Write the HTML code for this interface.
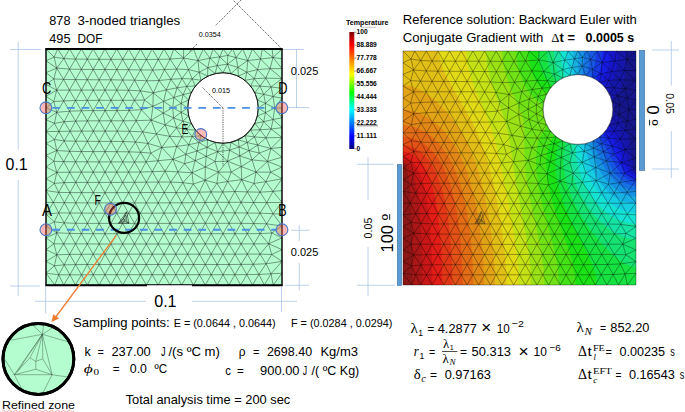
<!DOCTYPE html>
<html lang="en"><head><meta charset="utf-8"><title>Benchmark: plate with hole</title>
<style>html,body{margin:0;padding:0;background:#fff}svg{display:block}</style></head>
<body>
<svg width="685" height="412" viewBox="0 0 685 412">
<rect width="685" height="412" fill="#fff"/>
<g stroke="#a6c1e5" stroke-width="0.75" fill="none">
<path d="M18.2,42L18.2,149.5"/>
<path d="M18.2,180L18.2,296"/>
<path d="M10,49.5L41,49.5"/>
<path d="M10,286L40,286"/>
<path d="M45.7,286L45.7,313.5"/>
<path d="M35,301.3L146,301.3"/>
<path d="M192,301.3L297,301.3"/>
<path d="M281.5,287L281.5,312"/>
<path d="M296.5,49L296.5,108"/>
<path d="M283,49.5L304,49.5"/>
<path d="M288,107.5L309,107.5"/>
<path d="M299.3,225L299.3,241"/>
<path d="M299.3,263L299.3,290"/>
<path d="M291.4,230.3L309.6,230.3"/>
<path d="M285,285.3L309,285.3"/>
<path d="M368,157L368,200"/>
<path d="M368,247L368,296"/>
<path d="M357,164.3L394,164.3"/>
<path d="M357,285.3L395,285.3"/>
<path d="M671.3,41L671.3,85.5"/>
<path d="M671.3,131L671.3,178"/>
<path d="M652,50L679,50"/>
<path d="M652,169L679,169"/>
</g>
<rect x="46" y="49" width="236" height="236" fill="#b4fdce"/>
<circle cx="223" cy="108" r="35.4" fill="#fff"/>
<path d="M46,49L57.8,49M46,49L46,60.8M46,49L54.1,57.1M57.8,49L69.6,49M57.8,49L54.1,57.1M57.8,49L63.9,58.6M69.6,49L81.4,49M69.6,49L63.9,58.6M69.6,49L75.5,59.1M81.4,49L93.2,49M81.4,49L75.5,59.1M81.4,49L87.3,59.2M93.2,49L105,49M93.2,49L87.3,59.2M93.2,49L99.1,59.3M105,49L116.8,49M105,49L99.1,59.3M105,49L110.9,59.3M116.8,49L128.6,49M116.8,49L110.9,59.3M116.8,49L122.7,59.3M128.6,49L140.4,49M128.6,49L122.7,59.3M128.6,49L134.5,59.4M140.4,49L152.2,49M140.4,49L134.5,59.4M140.4,49L146.4,59.5M152.2,49L164,49M152.2,49L146.4,59.5M152.2,49L158.3,59.4M164,49L173.8,49M164,49L170.1,59.1M164,49L158.3,59.4M173.8,49L183.7,49M173.8,49L183.5,58M173.8,49L170.1,59.1M183.7,49L193.5,49M183.7,49L183.5,58M193.5,49L203.3,49M193.5,49L198,60.6M193.5,49L183.5,58M203.3,49L213.2,49M203.3,49L198,60.6M203.3,49L209.9,58.2M213.2,49L223,49M213.2,49L209.9,58.2M213.2,49L219.8,56.9M223,49L232.8,49M223,49L219.8,56.9M223,49L227.8,55.4M232.8,49L242.7,49M232.8,49L227.8,55.4M232.8,49L236.1,57.6M242.7,49L252.5,49M242.7,49L236.1,57.6M242.7,49L247.7,60.6M252.5,49L262.3,49M252.5,49L247.7,60.6M252.5,49L260.5,59.1M262.3,49L272.2,49M262.3,49L260.5,59.1M262.3,49L273,57.5M272.2,49L282,49M272.2,49L273,57.5M282,49L282,58.8M282,49L273,57.5M282,58.8L282,68.7M282,58.8L273,57.5M282,68.7L282,78.5M282,68.7L270.1,68.6M282,68.7L273,57.5M282,78.5L282,88.3M282,78.5L265.8,78.1M282,78.5L271.1,87M282,78.5L270.1,68.6M282,88.3L282,98.2M282,88.3L271.1,87M282,88.3L273.1,96.5M282,98.2L282,108M282,98.2L274.7,108M282,98.2L273.1,96.5M282,108L282,117.8M282,108L274.7,108M282,117.8L282,127.7M282,117.8L274.7,108M282,117.8L273.1,119.5M282,127.7L282,137.5M282,127.7L273.1,119.5M282,127.7L271.1,129M282,137.5L282,147.3M282,137.5L271.1,129M282,137.5L266,137.8M282,137.5L270.9,148.5M282,147.3L282,157.2M282,147.3L270.9,148.5M282,157.2L282,167M282,157.2L270.9,148.5M282,157.2L267.5,161.4M282,167L282,178.8M282,167L267.5,161.4M282,167L270.6,172.2M282,178.8L282,190.6M282,178.8L270.6,172.2M282,178.8L265.8,181.7M282,178.8L273,191.4M282,190.6L282,202.4M282,190.6L273,191.4M282,202.4L282,214.2M282,202.4L273,191.4M282,202.4L266.8,202.6M282,202.4L273.1,213.7M282,214.2L282,226M282,214.2L273.1,213.7M282,226L282,237.8M282,226L273.1,213.7M282,226L266.6,223.8M282,226L271.8,233M282,237.8L282,249.6M282,237.8L271.8,233M282,237.8L268.7,243.8M282,249.6L282,261.4M282,249.6L268.7,243.8M282,249.6L271.7,254.5M282,261.4L282,273.2M282,261.4L271.7,254.5M282,261.4L266.1,263.8M282,261.4L271,273.8M282,273.2L282,285M282,273.2L273.2,285M282,273.2L271,273.8M282,285L273.2,285M46,285L54.8,285M46,285L46,273.2M54.8,285L63.7,285M54.8,285L46,273.2M54.8,285L58.8,274.8M63.7,285L75.5,285M63.7,285L58.8,274.8M63.7,285L69.9,274.8M75.5,285L87.3,285M75.5,285L69.9,274.8M75.5,285L81.5,274.8M87.3,285L99.1,285M87.3,285L81.5,274.8M87.3,285L93.2,274.7M99.1,285L110.9,285M99.1,285L93.2,274.7M99.1,285L105,274.7M110.9,285L122.7,285M110.9,285L105,274.7M110.9,285L116.8,274.7M122.7,285L134.5,285M122.7,285L116.8,274.7M122.7,285L128.6,274.7M134.5,285L146.3,285M134.5,285L128.6,274.7M134.5,285L140.4,274.7M146.3,285L158.1,285M146.3,285L140.4,274.7M146.3,285L152.2,274.7M158.1,285L169.9,285M158.1,285L152.2,274.7M158.1,285L164,274.7M169.9,285L181.7,285M169.9,285L164,274.7M169.9,285L175.8,274.7M181.7,285L193.5,285M181.7,285L175.8,274.7M181.7,285L187.6,274.7M193.5,285L205.3,285M193.5,285L187.6,274.7M193.5,285L199.4,274.7M205.3,285L217.1,285M205.3,285L199.4,274.7M205.3,285L211.2,274.7M217.1,285L228.9,285M217.1,285L211.2,274.7M217.1,285L223,274.7M228.9,285L240.7,285M228.9,285L223,274.7M228.9,285L234.9,274.7M240.7,285L252.5,285M240.7,285L234.9,274.7M240.7,285L246.8,274.6M252.5,285L264.3,285M252.5,285L246.8,274.6M252.5,285L258.9,274.4M264.3,285L273.2,285M264.3,285L258.9,274.4M264.3,285L271,273.8M273.2,285L271,273.8M46,60.8L46,72.6M46,60.8L54.1,57.1M46,60.8L56.7,68.1M46,72.6L46,84.4M46,72.6L56.7,68.1M46,72.6L53.8,78.9M46,84.4L46,96.2M46,84.4L53.8,78.9M46,84.4L56.7,90.2M46,96.2L46,108M46,96.2L56.7,90.2M46,96.2L53.8,101.5M46,108L46,119.8M46,108L53.8,101.5M46,108L56.8,112.3M46,119.8L46,131.6M46,119.8L56.8,112.3M46,119.8L54.4,123.3M46,131.6L46,143.4M46,131.6L54.4,123.3M46,131.6L58.9,131.4M46,131.6L54.4,139.5M46,143.4L46,155.2M46,143.4L54.4,139.5M46,143.4L56.8,150.5M46,155.2L46,167M46,155.2L56.8,150.5M46,155.2L53.9,161.3M46,167L46,178.8M46,167L53.9,161.3M46,167L56.8,172.4M46,178.8L46,190.6M46,178.8L56.8,172.4M46,178.8L54.3,183.4M46,190.6L46,202.4M46,190.6L54.3,183.4M46,190.6L58.7,192.4M46,190.6L53.3,202.5M46,202.4L46,214.2M46,202.4L53.3,202.5M46,214.2L46,226M46,214.2L53.3,202.5M46,214.2L58.7,212.9M46,214.2L54.3,221.8M46,226L46,237.8M46,226L54.3,221.8M46,226L56.8,232.8M46,237.8L46,249.6M46,237.8L56.8,232.8M46,237.8L53.9,243.8M46,249.6L46,261.4M46,249.6L53.9,243.8M46,249.6L56.8,254.8M46,261.4L46,273.2M46,261.4L56.8,254.8M46,261.4L54.4,265.8M46,273.2L54.4,265.8M46,273.2L58.8,274.8M258.4,108L257.5,115.9M258.4,108L257.5,100.1M258.4,108L265.5,112.7M258.4,108L265.5,103.3M257.5,115.9L254.9,123.4M257.5,115.9L265.5,112.7M257.5,115.9L263.7,121.7M254.9,123.4L250.7,130.1M254.9,123.4L245.1,135.7M254.9,123.4L263.7,121.7M254.9,123.4L260.1,129.8M250.7,130.1L245.1,135.7M250.7,130.1L260.1,129.8M250.7,130.1L254.4,136.9M245.1,135.7L238.4,139.9M245.1,135.7L230.9,142.5M245.1,135.7L254.4,136.9M245.1,135.7L247.2,142.5M238.4,139.9L230.9,142.5M238.4,139.9L247.2,142.5M238.4,139.9L239.1,147M230.9,142.5L223,143.4M230.9,142.5L239.1,147M230.9,142.5L229.6,150.2M223,143.4L215.1,142.5M223,143.4L229.6,150.2M223,143.4L217.6,151.7M215.1,142.5L207.6,139.9M215.1,142.5L217.6,151.7M215.1,142.5L207.1,147.3M207.6,139.9L200.9,135.7M207.6,139.9L207.1,147.3M207.6,139.9L198.9,142.5M200.9,135.7L195.3,130.1M200.9,135.7L198.9,142.5M200.9,135.7L192.1,136.6M195.3,130.1L191.1,123.4M195.3,130.1L192.1,136.6M195.3,130.1L186.6,129.4M191.1,123.4L188.5,115.9M191.1,123.4L186.6,129.4M191.1,123.4L182.9,121.2M188.5,115.9L187.6,108M188.5,115.9L182.9,121.2M188.5,115.9L181.1,112.4M187.6,108L188.5,100.1M187.6,108L181.1,112.4M187.6,108L181.1,103.4M188.5,100.1L191.1,92.6M188.5,100.1L181.1,103.4M188.5,100.1L183.1,94.7M191.1,92.6L195.3,85.9M191.1,92.6L183.1,94.7M191.1,92.6L186.8,86.4M195.3,85.9L200.9,80.3M195.3,85.9L186.8,86.4M195.3,85.9L192.1,78.9M200.9,80.3L207.6,76.1M200.9,80.3L192.1,78.9M200.9,80.3L199.2,72.2M207.6,76.1L215.1,73.5M207.6,76.1L199.2,72.2M207.6,76.1L207.8,67.7M215.1,73.5L223,72.6M215.1,73.5L207.8,67.7M215.1,73.5L217.2,65.6M223,72.6L230.9,73.5M223,72.6L217.2,65.6M223,72.6L227.5,64.2M230.9,73.5L238.4,76.1M230.9,73.5L227.5,64.2M230.9,73.5L237.9,67.4M238.4,76.1L245.1,80.3M238.4,76.1L237.9,67.4M238.4,76.1L246.8,72.2M245.1,80.3L250.7,85.9M245.1,80.3L246.8,72.2M245.1,80.3L254.3,78.7M250.7,85.9L254.9,92.6M250.7,85.9L254.3,78.7M250.7,85.9L260,86.1M254.9,92.6L257.5,100.1M254.9,92.6L260,86.1M254.9,92.6L263.7,94.3M257.5,100.1L263.7,94.3M257.5,100.1L265.5,103.3M265.5,112.7L263.7,121.7M265.5,112.7L265.5,103.3M265.5,112.7L274.7,108M265.5,112.7L273.1,119.5M263.7,121.7L260.1,129.8M263.7,121.7L273.1,119.5M263.7,121.7L271.1,129M260.1,129.8L254.4,136.9M260.1,129.8L271.1,129M260.1,129.8L266,137.8M254.4,136.9L247.2,142.5M254.4,136.9L266,137.8M254.4,136.9L257.7,145M247.2,142.5L239.1,147M247.2,142.5L257.7,145M247.2,142.5L249.1,150.6M239.1,147L229.6,150.2M239.1,147L249.1,150.6M239.1,147L239.7,155.9M229.6,150.2L217.6,151.7M229.6,150.2L239.7,155.9M229.6,150.2L227.5,161.2M217.6,151.7L207.1,147.3M217.6,151.7L227.5,161.2M217.6,151.7L215,161.5M217.6,151.7L206.2,156.4M207.1,147.3L198.9,142.5M207.1,147.3L206.2,156.4M207.1,147.3L197,151M198.9,142.5L192.1,136.6M198.9,142.5L197,151M198.9,142.5L188.7,144.7M192.1,136.6L186.6,129.4M192.1,136.6L188.7,144.7M192.1,136.6L181.8,136.9M186.6,129.4L182.9,121.2M186.6,129.4L181.8,136.9M186.6,129.4L176.6,127.8M182.9,121.2L181.1,112.4M182.9,121.2L176.6,127.8M182.9,121.2L173.6,117.9M181.1,112.4L181.1,103.4M181.1,112.4L173.6,117.9M181.1,112.4L172.7,107.7M181.1,103.4L183.1,94.7M181.1,103.4L172.7,107.7M181.1,103.4L173.9,97.5M183.1,94.7L186.8,86.4M183.1,94.7L173.9,97.5M183.1,94.7L177.1,87.8M186.8,86.4L192.1,78.9M186.8,86.4L177.1,87.8M186.8,86.4L182,78.6M192.1,78.9L199.2,72.2M192.1,78.9L182,78.6M192.1,78.9L188.5,69.6M199.2,72.2L207.8,67.7M199.2,72.2L188.5,69.6M199.2,72.2L198,60.6M207.8,67.7L217.2,65.6M207.8,67.7L198,60.6M207.8,67.7L209.9,58.2M217.2,65.6L227.5,64.2M217.2,65.6L209.9,58.2M217.2,65.6L219.8,56.9M227.5,64.2L237.9,67.4M227.5,64.2L219.8,56.9M227.5,64.2L227.8,55.4M227.5,64.2L236.1,57.6M237.9,67.4L246.8,72.2M237.9,67.4L236.1,57.6M237.9,67.4L247.7,60.6M246.8,72.2L254.3,78.7M246.8,72.2L247.7,60.6M246.8,72.2L257.5,69.6M254.3,78.7L260,86.1M254.3,78.7L257.5,69.6M254.3,78.7L265.8,78.1M260,86.1L263.7,94.3M260,86.1L265.8,78.1M260,86.1L271.1,87M263.7,94.3L265.5,103.3M263.7,94.3L271.1,87M263.7,94.3L273.1,96.5M265.5,103.3L274.7,108M265.5,103.3L273.1,96.5M274.7,108L273.1,119.5M274.7,108L273.1,96.5M273.1,119.5L271.1,129M271.1,129L266,137.8M266,137.8L257.7,145M266,137.8L270.9,148.5M257.7,145L249.1,150.6M257.7,145L270.9,148.5M257.7,145L259.3,153.1M249.1,150.6L239.7,155.9M249.1,150.6L259.3,153.1M249.1,150.6L252,159.9M239.7,155.9L227.5,161.2M239.7,155.9L252,159.9M239.7,155.9L241.3,166.6M227.5,161.2L215,161.5M227.5,161.2L241.3,166.6M227.5,161.2L231.2,172M227.5,161.2L218.4,172.1M215,161.5L206.2,156.4M215,161.5L218.4,172.1M215,161.5L205.3,167.1M206.2,156.4L197,151M206.2,156.4L205.3,167.1M206.2,156.4L195.1,160.7M197,151L188.7,144.7M197,151L195.1,160.7M197,151L185.8,154.3M188.7,144.7L181.8,136.9M188.7,144.7L185.8,154.3M188.7,144.7L176.7,146.5M181.8,136.9L176.6,127.8M181.8,136.9L176.7,146.5M181.8,136.9L169.7,136.3M176.6,127.8L173.6,117.9M176.6,127.8L169.7,136.3M176.6,127.8L165.1,124.9M173.6,117.9L172.7,107.7M173.6,117.9L165.1,124.9M173.6,117.9L163.2,113.1M172.7,107.7L173.9,97.5M172.7,107.7L163.2,113.1M172.7,107.7L163.7,101.3M173.9,97.5L177.1,87.8M173.9,97.5L163.7,101.3M173.9,97.5L166.3,89.9M177.1,87.8L182,78.6M177.1,87.8L166.3,89.9M177.1,87.8L170.9,79.3M182,78.6L188.5,69.6M182,78.6L170.9,79.3M182,78.6L176.6,69.1M188.5,69.6L198,60.6M188.5,69.6L176.6,69.1M188.5,69.6L183.5,58M198,60.6L209.9,58.2M198,60.6L183.5,58M209.9,58.2L219.8,56.9M219.8,56.9L227.8,55.4M227.8,55.4L236.1,57.6M236.1,57.6L247.7,60.6M247.7,60.6L257.5,69.6M247.7,60.6L260.5,59.1M257.5,69.6L265.8,78.1M257.5,69.6L260.5,59.1M257.5,69.6L270.1,68.6M265.8,78.1L271.1,87M265.8,78.1L270.1,68.6M271.1,87L273.1,96.5M270.9,148.5L259.3,153.1M270.9,148.5L267.5,161.4M259.3,153.1L252,159.9M259.3,153.1L267.5,161.4M252,159.9L241.3,166.6M252,159.9L267.5,161.4M252,159.9L256,172.1M241.3,166.6L231.2,172M241.3,166.6L256,172.1M241.3,166.6L241.7,179.7M231.2,172L218.4,172.1M231.2,172L241.7,179.7M231.2,172L227.6,181.5M218.4,172.1L205.3,167.1M218.4,172.1L227.6,181.5M218.4,172.1L216.9,183.3M218.4,172.1L205.1,180.2M205.3,167.1L195.1,160.7M205.3,167.1L205.1,180.2M205.3,167.1L192,172.7M195.1,160.7L185.8,154.3M195.1,160.7L192,172.7M195.1,160.7L184.6,163.7M185.8,154.3L176.7,146.5M185.8,154.3L184.6,163.7M185.8,154.3L172.8,159.3M176.7,146.5L169.7,136.3M176.7,146.5L172.8,159.3M176.7,146.5L161.8,147.5M169.7,136.3L165.1,124.9M169.7,136.3L161.8,147.5M169.7,136.3L156.4,134M165.1,124.9L163.2,113.1M165.1,124.9L156.4,134M165.1,124.9L151.1,120.1M163.2,113.1L163.7,101.3M163.2,113.1L151.1,120.1M163.2,113.1L152.9,106.3M163.7,101.3L166.3,89.9M163.7,101.3L152.9,106.3M163.7,101.3L153.3,92.9M166.3,89.9L170.9,79.3M166.3,89.9L153.3,92.9M166.3,89.9L159,80.5M170.9,79.3L176.6,69.1M170.9,79.3L159,80.5M170.9,79.3L164.5,69.6M176.6,69.1L183.5,58M176.6,69.1L164.5,69.6M176.6,69.1L170.1,59.1M183.5,58L170.1,59.1M260.5,59.1L270.1,68.6M260.5,59.1L273,57.5M270.1,68.6L273,57.5M267.5,161.4L256,172.1M267.5,161.4L270.6,172.2M256,172.1L241.7,179.7M256,172.1L270.6,172.2M256,172.1L254,183.4M256,172.1L265.8,181.7M241.7,179.7L227.6,181.5M241.7,179.7L254,183.4M241.7,179.7L234.8,191.5M241.7,179.7L247.4,191.9M227.6,181.5L216.9,183.3M227.6,181.5L222.7,192M227.6,181.5L234.8,191.5M216.9,183.3L205.1,180.2M216.9,183.3L211,191.9M216.9,183.3L222.7,192M205.1,180.2L192,172.7M205.1,180.2L193.3,184M205.1,180.2L199.3,192.2M205.1,180.2L211,191.9M192,172.7L184.6,163.7M192,172.7L177.9,171.9M192,172.7L182.9,182.6M192,172.7L193.3,184M184.6,163.7L172.8,159.3M184.6,163.7L177.9,171.9M172.8,159.3L161.8,147.5M172.8,159.3L158.1,160.7M172.8,159.3L165,171.2M172.8,159.3L177.9,171.9M161.8,147.5L156.4,134M161.8,147.5L147.9,143.4M161.8,147.5L150.9,153.1M161.8,147.5L158.1,160.7M156.4,134L151.1,120.1M156.4,134L142.7,131.9M156.4,134L147.9,143.4M151.1,120.1L152.9,106.3M151.1,120.1L141.4,109.7M151.1,120.1L136.2,120.7M151.1,120.1L142.7,131.9M152.9,106.3L153.3,92.9M152.9,106.3L144.5,100M152.9,106.3L141.4,109.7M153.3,92.9L159,80.5M153.3,92.9L146.7,80.8M153.3,92.9L140.4,90.8M153.3,92.9L144.5,100M159,80.5L164.5,69.6M159,80.5L152.6,70M159,80.5L146.7,80.8M164.5,69.6L170.1,59.1M164.5,69.6L158.3,59.4M164.5,69.6L152.6,70M170.1,59.1L158.3,59.4M54.1,57.1L63.9,58.6M54.1,57.1L56.7,68.1M63.9,58.6L75.5,59.1M63.9,58.6L56.7,68.1M63.9,58.6L69.5,69.1M75.5,59.1L87.3,59.2M75.5,59.1L69.5,69.1M75.5,59.1L81.4,69.4M87.3,59.2L99.1,59.3M87.3,59.2L81.4,69.4M87.3,59.2L93.2,69.5M99.1,59.3L110.9,59.3M99.1,59.3L93.2,69.5M99.1,59.3L105,69.5M110.9,59.3L122.7,59.3M110.9,59.3L105,69.5M110.9,59.3L116.8,69.6M122.7,59.3L134.5,59.4M122.7,59.3L116.8,69.6M122.7,59.3L128.7,69.7M134.5,59.4L146.4,59.5M134.5,59.4L128.7,69.7M134.5,59.4L140.6,69.9M146.4,59.5L158.3,59.4M146.4,59.5L140.6,69.9M146.4,59.5L152.6,70M158.3,59.4L152.6,70M56.7,68.1L69.5,69.1M56.7,68.1L53.8,78.9M56.7,68.1L63.6,79.4M69.5,69.1L81.4,69.4M69.5,69.1L63.6,79.4M69.5,69.1L75.5,79.6M81.4,69.4L93.2,69.5M81.4,69.4L75.5,79.6M81.4,69.4L87.3,79.7M93.2,69.5L105,69.5M93.2,69.5L87.3,79.7M93.2,69.5L99.1,79.8M105,69.5L116.8,69.6M105,69.5L99.1,79.8M105,69.5L110.9,79.8M116.8,69.6L128.7,69.7M116.8,69.6L110.9,79.8M116.8,69.6L122.7,80M128.7,69.7L140.6,69.9M128.7,69.7L122.7,80M128.7,69.7L134.6,80.2M140.6,69.9L152.6,70M140.6,69.9L134.6,80.2M140.6,69.9L146.7,80.8M152.6,70L146.7,80.8M53.8,78.9L63.6,79.4M53.8,78.9L56.7,90.2M63.6,79.4L75.5,79.6M63.6,79.4L56.7,90.2M63.6,79.4L69.4,90.1M75.5,79.6L87.3,79.7M75.5,79.6L69.4,90.1M75.5,79.6L81.4,90.1M87.3,79.7L99.1,79.8M87.3,79.7L81.4,90.1M87.3,79.7L93.2,90.1M99.1,79.8L110.9,79.8M99.1,79.8L93.2,90.1M99.1,79.8L105,90.1M110.9,79.8L122.7,80M110.9,79.8L105,90.1M110.9,79.8L116.8,90.1M122.7,80L134.6,80.2M122.7,80L116.8,90.1M122.7,80L128.6,90.3M134.6,80.2L146.7,80.8M134.6,80.2L128.6,90.3M134.6,80.2L140.4,90.8M146.7,80.8L140.4,90.8M56.7,90.2L69.4,90.1M56.7,90.2L53.8,101.5M56.7,90.2L63.7,100.9M69.4,90.1L81.4,90.1M69.4,90.1L63.7,100.9M69.4,90.1L75.5,100.5M81.4,90.1L93.2,90.1M81.4,90.1L75.5,100.5M81.4,90.1L87.3,100.4M93.2,90.1L105,90.1M93.2,90.1L87.3,100.4M93.2,90.1L99.1,100.3M105,90.1L116.8,90.1M105,90.1L99.1,100.3M105,90.1L111,100.3M116.8,90.1L128.6,90.3M116.8,90.1L111,100.3M116.8,90.1L122.8,100.3M128.6,90.3L140.4,90.8M128.6,90.3L122.8,100.3M128.6,90.3L134.5,100.3M140.4,90.8L134.5,100.3M140.4,90.8L144.5,100M53.8,101.5L63.7,100.9M53.8,101.5L56.8,112.3M63.7,100.9L75.5,100.5M63.7,100.9L56.8,112.3M63.7,100.9L69.6,111.2M75.5,100.5L87.3,100.4M75.5,100.5L69.6,111.2M75.5,100.5L81.4,110.7M87.3,100.4L99.1,100.3M87.3,100.4L81.4,110.7M87.3,100.4L93.2,110.6M99.1,100.3L111,100.3M99.1,100.3L93.2,110.6M99.1,100.3L105.1,110.6M111,100.3L122.8,100.3M111,100.3L105.1,110.6M111,100.3L117,110.6M122.8,100.3L134.5,100.3M122.8,100.3L117,110.6M122.8,100.3L129.2,110.4M134.5,100.3L144.5,100M134.5,100.3L129.2,110.4M134.5,100.3L141.4,109.7M144.5,100L141.4,109.7M56.8,112.3L69.6,111.2M56.8,112.3L54.4,123.3M56.8,112.3L64.2,121.7M69.6,111.2L81.4,110.7M69.6,111.2L64.2,121.7M69.6,111.2L75.7,121.1M81.4,110.7L93.2,110.6M81.4,110.7L75.7,121.1M81.4,110.7L87.4,120.9M93.2,110.6L105.1,110.6M93.2,110.6L87.4,120.9M93.2,110.6L99.2,120.8M105.1,110.6L117,110.6M105.1,110.6L99.2,120.8M105.1,110.6L111.1,120.8M117,110.6L129.2,110.4M117,110.6L111.1,120.8M117,110.6L123.3,120.8M129.2,110.4L141.4,109.7M129.2,110.4L123.3,120.8M129.2,110.4L136.2,120.7M141.4,109.7L136.2,120.7M54.4,123.3L64.2,121.7M54.4,123.3L58.9,131.4M64.2,121.7L75.7,121.1M64.2,121.7L58.9,131.4M64.2,121.7L70,131.2M75.7,121.1L87.4,120.9M75.7,121.1L70,131.2M75.7,121.1L81.6,131.1M87.4,120.9L99.2,120.8M87.4,120.9L81.6,131.1M87.4,120.9L93.3,131.1M99.2,120.8L111.1,120.8M99.2,120.8L93.3,131.1M99.2,120.8L105.1,131.1M111.1,120.8L123.3,120.8M111.1,120.8L105.1,131.1M111.1,120.8L117.2,131.1M123.3,120.8L136.2,120.7M123.3,120.8L117.2,131.1M123.3,120.8L129.6,131.3M136.2,120.7L129.6,131.3M136.2,120.7L142.7,131.9M58.9,131.4L70,131.2M58.9,131.4L54.4,139.5M58.9,131.4L64.2,140.9M70,131.2L81.6,131.1M70,131.2L64.2,140.9M70,131.2L75.7,141.2M81.6,131.1L93.3,131.1M81.6,131.1L75.7,141.2M81.6,131.1L87.4,141.3M93.3,131.1L105.1,131.1M93.3,131.1L87.4,141.3M93.3,131.1L99.2,141.4M105.1,131.1L117.2,131.1M105.1,131.1L99.2,141.4M105.1,131.1L111,141.4M117.2,131.1L129.6,131.3M117.2,131.1L111,141.4M117.2,131.1L123.1,141.5M129.6,131.3L142.7,131.9M129.6,131.3L123.1,141.5M129.6,131.3L135.4,142M142.7,131.9L135.4,142M142.7,131.9L147.9,143.4M54.4,139.5L64.2,140.9M54.4,139.5L56.8,150.5M64.2,140.9L75.7,141.2M64.2,140.9L56.8,150.5M64.2,140.9L69.6,151.3M75.7,141.2L87.4,141.3M75.7,141.2L69.6,151.3M75.7,141.2L81.4,151.5M87.4,141.3L99.2,141.4M87.4,141.3L81.4,151.5M87.4,141.3L93.2,151.6M99.2,141.4L111,141.4M99.2,141.4L93.2,151.6M99.2,141.4L105,151.6M111,141.4L123.1,141.5M111,141.4L105,151.6M111,141.4L116.9,151.7M123.1,141.5L135.4,142M123.1,141.5L116.9,151.7M123.1,141.5L128.9,151.8M135.4,142L147.9,143.4M135.4,142L128.9,151.8M135.4,142L140.6,152.3M147.9,143.4L140.6,152.3M147.9,143.4L150.9,153.1M56.8,150.5L69.6,151.3M56.8,150.5L53.9,161.3M56.8,150.5L63.7,161.6M69.6,151.3L81.4,151.5M69.6,151.3L63.7,161.6M69.6,151.3L75.5,161.8M81.4,151.5L93.2,151.6M81.4,151.5L75.5,161.8M81.4,151.5L87.3,161.8M93.2,151.6L105,151.6M93.2,151.6L87.3,161.8M93.2,151.6L99.1,161.9M105,151.6L116.9,151.7M105,151.6L99.1,161.9M105,151.6L110.9,161.9M116.9,151.7L128.9,151.8M116.9,151.7L110.9,161.9M116.9,151.7L122.8,161.9M128.9,151.8L140.6,152.3M128.9,151.8L122.8,161.9M128.9,151.8L134.5,162M140.6,152.3L150.9,153.1M140.6,152.3L134.5,162M140.6,152.3L146.1,161.9M150.9,153.1L146.1,161.9M150.9,153.1L158.1,160.7M53.9,161.3L63.7,161.6M53.9,161.3L56.8,172.4M63.7,161.6L75.5,161.8M63.7,161.6L56.8,172.4M63.7,161.6L69.6,172.2M75.5,161.8L87.3,161.8M75.5,161.8L69.6,172.2M75.5,161.8L81.4,172.1M87.3,161.8L99.1,161.9M87.3,161.8L81.4,172.1M87.3,161.8L93.2,172.1M99.1,161.9L110.9,161.9M99.1,161.9L93.2,172.1M99.1,161.9L105,172.1M110.9,161.9L122.8,161.9M110.9,161.9L105,172.1M110.9,161.9L116.8,172.1M122.8,161.9L134.5,162M122.8,161.9L116.8,172.1M122.8,161.9L128.6,172.1M134.5,162L146.1,161.9M134.5,162L128.6,172.1M134.5,162L140.4,172M146.1,161.9L158.1,160.7M146.1,161.9L140.4,172M146.1,161.9L152.4,171.7M158.1,160.7L152.4,171.7M158.1,160.7L165,171.2M56.8,172.4L69.6,172.2M56.8,172.4L54.3,183.4M56.8,172.4L64.2,182.6M69.6,172.2L81.4,172.1M69.6,172.2L64.2,182.6M69.6,172.2L75.7,182.4M81.4,172.1L93.2,172.1M81.4,172.1L75.7,182.4M81.4,172.1L87.4,182.4M93.2,172.1L105,172.1M93.2,172.1L87.4,182.4M93.2,172.1L99.1,182.4M105,172.1L116.8,172.1M105,172.1L99.1,182.4M105,172.1L110.9,182.4M116.8,172.1L128.6,172.1M116.8,172.1L110.9,182.4M116.8,172.1L122.7,182.4M128.6,172.1L140.4,172M128.6,172.1L122.7,182.4M128.6,172.1L134.5,182.3M140.4,172L152.4,171.7M140.4,172L134.5,182.3M140.4,172L146.4,182.2M152.4,171.7L165,171.2M152.4,171.7L146.4,182.2M152.4,171.7L158.4,182M165,171.2L177.9,171.9M165,171.2L158.4,182M165,171.2L170.7,182.1M177.9,171.9L170.7,182.1M177.9,171.9L182.9,182.6M270.6,172.2L265.8,181.7M54.3,183.4L64.2,182.6M54.3,183.4L58.7,192.4M64.2,182.6L75.7,182.4M64.2,182.6L58.7,192.4M64.2,182.6L70,192.6M75.7,182.4L87.4,182.4M75.7,182.4L70,192.6M75.7,182.4L81.6,192.6M87.4,182.4L99.1,182.4M87.4,182.4L81.6,192.6M87.4,182.4L93.3,192.6M99.1,182.4L110.9,182.4M99.1,182.4L93.3,192.6M99.1,182.4L105,192.7M110.9,182.4L122.7,182.4M110.9,182.4L105,192.7M110.9,182.4L116.8,192.6M122.7,182.4L134.5,182.3M122.7,182.4L116.8,192.6M122.7,182.4L128.6,192.6M134.5,182.3L146.4,182.2M134.5,182.3L128.6,192.6M134.5,182.3L140.4,192.6M146.4,182.2L158.4,182M146.4,182.2L140.4,192.6M146.4,182.2L152.3,192.5M158.4,182L170.7,182.1M158.4,182L152.3,192.5M158.4,182L164.2,192.5M170.7,182.1L182.9,182.6M170.7,182.1L164.2,192.5M170.7,182.1L176.2,192.6M182.9,182.6L193.3,184M182.9,182.6L176.2,192.6M182.9,182.6L187.8,192.7M193.3,184L187.8,192.7M193.3,184L199.3,192.2M254,183.4L265.8,181.7M254,183.4L247.4,191.9M254,183.4L260,192.2M265.8,181.7L260,192.2M265.8,181.7L273,191.4M58.7,192.4L70,192.6M58.7,192.4L53.3,202.5M58.7,192.4L64.4,202.7M70,192.6L81.6,192.6M70,192.6L64.4,202.7M70,192.6L75.8,202.8M81.6,192.6L93.3,192.6M81.6,192.6L75.8,202.8M81.6,192.6L87.4,202.9M93.3,192.6L105,192.7M93.3,192.6L87.4,202.9M93.3,192.6L99.1,202.9M105,192.7L116.8,192.6M105,192.7L99.1,202.9M105,192.7L110.9,202.9M116.8,192.6L128.6,192.6M116.8,192.6L110.9,202.9M116.8,192.6L122.7,202.9M128.6,192.6L140.4,192.6M128.6,192.6L122.7,202.9M128.6,192.6L134.5,202.9M140.4,192.6L152.3,192.5M140.4,192.6L134.5,202.9M140.4,192.6L146.3,202.9M152.3,192.5L164.2,192.5M152.3,192.5L146.3,202.9M152.3,192.5L158.2,202.9M164.2,192.5L176.2,192.6M164.2,192.5L158.2,202.9M164.2,192.5L170,202.8M176.2,192.6L187.8,192.7M176.2,192.6L170,202.8M176.2,192.6L181.8,202.8M187.8,192.7L199.3,192.2M187.8,192.7L181.8,202.8M187.8,192.7L193.5,202.7M199.3,192.2L211,191.9M199.3,192.2L193.5,202.7M199.3,192.2L205.2,202.5M211,191.9L222.7,192M211,191.9L205.2,202.5M211,191.9L217,202.3M222.7,192L234.8,191.5M222.7,192L217,202.3M222.7,192L228.9,202.3M234.8,191.5L247.4,191.9M234.8,191.5L228.9,202.3M234.8,191.5L241,202.3M247.4,191.9L260,192.2M247.4,191.9L241,202.3M247.4,191.9L253.6,202.5M260,192.2L273,191.4M260,192.2L253.6,202.5M260,192.2L266.8,202.6M273,191.4L266.8,202.6M53.3,202.5L64.4,202.7M53.3,202.5L58.7,212.9M64.4,202.7L75.8,202.8M64.4,202.7L58.7,212.9M64.4,202.7L70,213M75.8,202.8L87.4,202.9M75.8,202.8L70,213M75.8,202.8L81.6,213.1M87.4,202.9L99.1,202.9M87.4,202.9L81.6,213.1M87.4,202.9L93.3,213.2M99.1,202.9L110.9,202.9M99.1,202.9L93.3,213.2M99.1,202.9L105,213.2M110.9,202.9L122.7,202.9M110.9,202.9L105,213.2M110.9,202.9L116.8,213.2M122.7,202.9L134.5,202.9M122.7,202.9L116.8,213.2M122.7,202.9L128.6,213.2M134.5,202.9L146.3,202.9M134.5,202.9L128.6,213.2M134.5,202.9L140.4,213.2M146.3,202.9L158.2,202.9M146.3,202.9L140.4,213.2M146.3,202.9L152.2,213.2M158.2,202.9L170,202.8M158.2,202.9L152.2,213.2M158.2,202.9L164,213.1M170,202.8L181.8,202.8M170,202.8L164,213.1M170,202.8L175.8,213.1M181.8,202.8L193.5,202.7M181.8,202.8L175.8,213.1M181.8,202.8L187.6,213.1M193.5,202.7L205.2,202.5M193.5,202.7L187.6,213.1M193.5,202.7L199.4,213M205.2,202.5L217,202.3M205.2,202.5L199.4,213M205.2,202.5L211.2,212.9M217,202.3L228.9,202.3M217,202.3L211.2,212.9M217,202.3L223,212.8M228.9,202.3L241,202.3M228.9,202.3L223,212.8M228.9,202.3L235,212.9M241,202.3L253.6,202.5M241,202.3L235,212.9M241,202.3L247.2,213M253.6,202.5L266.8,202.6M253.6,202.5L247.2,213M253.6,202.5L260,213.2M266.8,202.6L260,213.2M266.8,202.6L273.1,213.7M58.7,212.9L70,213M58.7,212.9L54.3,221.8M58.7,212.9L64.2,222.9M70,213L81.6,213.1M70,213L64.2,222.9M70,213L75.7,223.3M81.6,213.1L93.3,213.2M81.6,213.1L75.7,223.3M81.6,213.1L87.4,223.4M93.3,213.2L105,213.2M93.3,213.2L87.4,223.4M93.3,213.2L99.1,223.4M105,213.2L116.8,213.2M105,213.2L99.1,223.4M105,213.2L110.9,223.4M116.8,213.2L128.6,213.2M116.8,213.2L110.9,223.4M116.8,213.2L122.7,223.4M128.6,213.2L140.4,213.2M128.6,213.2L122.7,223.4M128.6,213.2L134.5,223.4M140.4,213.2L152.2,213.2M140.4,213.2L134.5,223.4M140.4,213.2L146.3,223.4M152.2,213.2L164,213.1M152.2,213.2L146.3,223.4M152.2,213.2L158.1,223.4M164,213.1L175.8,213.1M164,213.1L158.1,223.4M164,213.1L169.9,223.4M175.8,213.1L187.6,213.1M175.8,213.1L169.9,223.4M175.8,213.1L181.7,223.4M187.6,213.1L199.4,213M187.6,213.1L181.7,223.4M187.6,213.1L193.5,223.4M199.4,213L211.2,212.9M199.4,213L193.5,223.4M199.4,213L205.3,223.3M211.2,212.9L223,212.8M211.2,212.9L205.3,223.3M211.2,212.9L217.1,223.3M223,212.8L235,212.9M223,212.8L217.1,223.3M223,212.8L229,223.3M235,212.9L247.2,213M235,212.9L229,223.3M235,212.9L241.1,223.3M247.2,213L260,213.2M247.2,213L241.1,223.3M247.2,213L253.6,223.5M260,213.2L273.1,213.7M260,213.2L253.6,223.5M260,213.2L266.6,223.8M273.1,213.7L266.6,223.8M54.3,221.8L64.2,222.9M54.3,221.8L56.8,232.8M64.2,222.9L75.7,223.3M64.2,222.9L56.8,232.8M64.2,222.9L69.6,233.4M75.7,223.3L87.4,223.4M75.7,223.3L69.6,233.4M75.7,223.3L81.4,233.6M87.4,223.4L99.1,223.4M87.4,223.4L81.4,233.6M87.4,223.4L93.2,233.7M99.1,223.4L110.9,223.4M99.1,223.4L93.2,233.7M99.1,223.4L105,233.7M110.9,223.4L122.7,223.4M110.9,223.4L105,233.7M110.9,223.4L116.8,233.7M122.7,223.4L134.5,223.4M122.7,223.4L116.8,233.7M122.7,223.4L128.6,233.7M134.5,223.4L146.3,223.4M134.5,223.4L128.6,233.7M134.5,223.4L140.4,233.7M146.3,223.4L158.1,223.4M146.3,223.4L140.4,233.7M146.3,223.4L152.2,233.7M158.1,223.4L169.9,223.4M158.1,223.4L152.2,233.7M158.1,223.4L164,233.7M169.9,223.4L181.7,223.4M169.9,223.4L164,233.7M169.9,223.4L175.8,233.7M181.7,223.4L193.5,223.4M181.7,223.4L175.8,233.7M181.7,223.4L187.6,233.7M193.5,223.4L205.3,223.3M193.5,223.4L187.6,233.7M193.5,223.4L199.4,233.7M205.3,223.3L217.1,223.3M205.3,223.3L199.4,233.7M205.3,223.3L211.2,233.7M217.1,223.3L229,223.3M217.1,223.3L211.2,233.7M217.1,223.3L223,233.7M229,223.3L241.1,223.3M229,223.3L223,233.7M229,223.3L235,233.7M241.1,223.3L253.6,223.5M241.1,223.3L235,233.7M241.1,223.3L247.3,233.7M253.6,223.5L266.6,223.8M253.6,223.5L247.3,233.7M253.6,223.5L260.1,233.6M266.6,223.8L260.1,233.6M266.6,223.8L271.8,233M56.8,232.8L69.6,233.4M56.8,232.8L53.9,243.8M56.8,232.8L63.7,243.9M69.6,233.4L81.4,233.6M69.6,233.4L63.7,243.9M69.6,233.4L75.5,243.9M81.4,233.6L93.2,233.7M81.4,233.6L75.5,243.9M81.4,233.6L87.3,243.9M93.2,233.7L105,233.7M93.2,233.7L87.3,243.9M93.2,233.7L99.1,244M105,233.7L116.8,233.7M105,233.7L99.1,244M105,233.7L110.9,244M116.8,233.7L128.6,233.7M116.8,233.7L110.9,244M116.8,233.7L122.7,244M128.6,233.7L140.4,233.7M128.6,233.7L122.7,244M128.6,233.7L134.5,244M140.4,233.7L152.2,233.7M140.4,233.7L134.5,244M140.4,233.7L146.3,244M152.2,233.7L164,233.7M152.2,233.7L146.3,244M152.2,233.7L158.1,244M164,233.7L175.8,233.7M164,233.7L158.1,244M164,233.7L169.9,244M175.8,233.7L187.6,233.7M175.8,233.7L169.9,244M175.8,233.7L181.7,244M187.6,233.7L199.4,233.7M187.6,233.7L181.7,244M187.6,233.7L193.5,244M199.4,233.7L211.2,233.7M199.4,233.7L193.5,244M199.4,233.7L205.3,243.9M211.2,233.7L223,233.7M211.2,233.7L205.3,243.9M211.2,233.7L217.1,243.9M223,233.7L235,233.7M223,233.7L217.1,243.9M223,233.7L229,243.9M235,233.7L247.3,233.7M235,233.7L229,243.9M235,233.7L241.1,243.9M247.3,233.7L260.1,233.6M247.3,233.7L241.1,243.9M247.3,233.7L253.9,243.9M260.1,233.6L271.8,233M260.1,233.6L253.9,243.9M260.1,233.6L268.7,243.8M271.8,233L268.7,243.8M53.9,243.8L63.7,243.9M53.9,243.8L56.8,254.8M63.7,243.9L75.5,243.9M63.7,243.9L56.8,254.8M63.7,243.9L69.6,254.4M75.5,243.9L87.3,243.9M75.5,243.9L69.6,254.4M75.5,243.9L81.4,254.3M87.3,243.9L99.1,244M87.3,243.9L81.4,254.3M87.3,243.9L93.2,254.2M99.1,244L110.9,244M99.1,244L93.2,254.2M99.1,244L105,254.2M110.9,244L122.7,244M110.9,244L105,254.2M110.9,244L116.8,254.2M122.7,244L134.5,244M122.7,244L116.8,254.2M122.7,244L128.6,254.2M134.5,244L146.3,244M134.5,244L128.6,254.2M134.5,244L140.4,254.2M146.3,244L158.1,244M146.3,244L140.4,254.2M146.3,244L152.2,254.2M158.1,244L169.9,244M158.1,244L152.2,254.2M158.1,244L164,254.2M169.9,244L181.7,244M169.9,244L164,254.2M169.9,244L175.8,254.2M181.7,244L193.5,244M181.7,244L175.8,254.2M181.7,244L187.6,254.2M193.5,244L205.3,243.9M193.5,244L187.6,254.2M193.5,244L199.4,254.2M205.3,243.9L217.1,243.9M205.3,243.9L199.4,254.2M205.3,243.9L211.2,254.2M217.1,243.9L229,243.9M217.1,243.9L211.2,254.2M217.1,243.9L223,254.2M229,243.9L241.1,243.9M229,243.9L223,254.2M229,243.9L235,254.2M241.1,243.9L253.9,243.9M241.1,243.9L235,254.2M241.1,243.9L247.3,254.1M253.9,243.9L268.7,243.8M253.9,243.9L247.3,254.1M253.9,243.9L260,254.1M268.7,243.8L260,254.1M268.7,243.8L271.7,254.5M56.8,254.8L69.6,254.4M56.8,254.8L54.4,265.8M56.8,254.8L64.2,264.8M69.6,254.4L81.4,254.3M69.6,254.4L64.2,264.8M69.6,254.4L75.6,264.6M81.4,254.3L93.2,254.2M81.4,254.3L75.6,264.6M81.4,254.3L87.3,264.5M93.2,254.2L105,254.2M93.2,254.2L87.3,264.5M93.2,254.2L99.1,264.5M105,254.2L116.8,254.2M105,254.2L99.1,264.5M105,254.2L110.9,264.5M116.8,254.2L128.6,254.2M116.8,254.2L110.9,264.5M116.8,254.2L122.7,264.5M128.6,254.2L140.4,254.2M128.6,254.2L122.7,264.5M128.6,254.2L134.5,264.5M140.4,254.2L152.2,254.2M140.4,254.2L134.5,264.5M140.4,254.2L146.3,264.5M152.2,254.2L164,254.2M152.2,254.2L146.3,264.5M152.2,254.2L158.1,264.5M164,254.2L175.8,254.2M164,254.2L158.1,264.5M164,254.2L169.9,264.5M175.8,254.2L187.6,254.2M175.8,254.2L169.9,264.5M175.8,254.2L181.7,264.5M187.6,254.2L199.4,254.2M187.6,254.2L181.7,264.5M187.6,254.2L193.5,264.5M199.4,254.2L211.2,254.2M199.4,254.2L193.5,264.5M199.4,254.2L205.3,264.5M211.2,254.2L223,254.2M211.2,254.2L205.3,264.5M211.2,254.2L217.1,264.5M223,254.2L235,254.2M223,254.2L217.1,264.5M223,254.2L229,264.5M235,254.2L247.3,254.1M235,254.2L229,264.5M235,254.2L241,264.4M247.3,254.1L260,254.1M247.3,254.1L241,264.4M247.3,254.1L253.2,264.3M260,254.1L271.7,254.5M260,254.1L253.2,264.3M260,254.1L266.1,263.8M271.7,254.5L266.1,263.8M54.4,265.8L64.2,264.8M54.4,265.8L58.8,274.8M64.2,264.8L75.6,264.6M64.2,264.8L58.8,274.8M64.2,264.8L69.9,274.8M75.6,264.6L87.3,264.5M75.6,264.6L69.9,274.8M75.6,264.6L81.5,274.8M87.3,264.5L99.1,264.5M87.3,264.5L81.5,274.8M87.3,264.5L93.2,274.7M99.1,264.5L110.9,264.5M99.1,264.5L93.2,274.7M99.1,264.5L105,274.7M110.9,264.5L122.7,264.5M110.9,264.5L105,274.7M110.9,264.5L116.8,274.7M122.7,264.5L134.5,264.5M122.7,264.5L116.8,274.7M122.7,264.5L128.6,274.7M134.5,264.5L146.3,264.5M134.5,264.5L128.6,274.7M134.5,264.5L140.4,274.7M146.3,264.5L158.1,264.5M146.3,264.5L140.4,274.7M146.3,264.5L152.2,274.7M158.1,264.5L169.9,264.5M158.1,264.5L152.2,274.7M158.1,264.5L164,274.7M169.9,264.5L181.7,264.5M169.9,264.5L164,274.7M169.9,264.5L175.8,274.7M181.7,264.5L193.5,264.5M181.7,264.5L175.8,274.7M181.7,264.5L187.6,274.7M193.5,264.5L205.3,264.5M193.5,264.5L187.6,274.7M193.5,264.5L199.4,274.7M205.3,264.5L217.1,264.5M205.3,264.5L199.4,274.7M205.3,264.5L211.2,274.7M217.1,264.5L229,264.5M217.1,264.5L211.2,274.7M217.1,264.5L223,274.7M229,264.5L241,264.4M229,264.5L223,274.7M229,264.5L234.9,274.7M241,264.4L253.2,264.3M241,264.4L234.9,274.7M241,264.4L246.8,274.6M253.2,264.3L266.1,263.8M253.2,264.3L246.8,274.6M253.2,264.3L258.9,274.4M266.1,263.8L258.9,274.4M266.1,263.8L271,273.8M58.8,274.8L69.9,274.8M69.9,274.8L81.5,274.8M81.5,274.8L93.2,274.7M93.2,274.7L105,274.7M105,274.7L116.8,274.7M116.8,274.7L128.6,274.7M128.6,274.7L140.4,274.7M140.4,274.7L152.2,274.7M152.2,274.7L164,274.7M164,274.7L175.8,274.7M175.8,274.7L187.6,274.7M187.6,274.7L199.4,274.7M199.4,274.7L211.2,274.7M211.2,274.7L223,274.7M223,274.7L234.9,274.7M234.9,274.7L246.8,274.6M246.8,274.6L258.9,274.4M258.9,274.4L271,273.8" stroke="#0c1410" stroke-opacity="0.85" stroke-width="0.5" fill="none"/>
<rect x="46" y="49" width="236" height="236" fill="none" stroke="#000" stroke-width="1.3"/>
<path d="M45.4,49.1H282.6" stroke="#000" stroke-width="2"/><path d="M45.4,285.5H282.6" stroke="#000" stroke-width="1.6"/>
<circle cx="223" cy="108" r="35.2" fill="none" stroke="#111" stroke-width="1"/>
<path d="M147,286.5H192" stroke="#fff" stroke-width="2.5"/>
<g stroke="#111" stroke-width="0.5" fill="none"><path d="M118.6,223.2L129,223.2L126.5,211.8ZM126.5,211.8L123.5,218.6L118.6,223.2M123.5,218.6L129,223.2M123.5,218.6L124.3,221.2L118.6,223.2M124.3,221.2L129,223.2M125.6,215L121.5,221.4M125.6,215L127,221.2"/></g>
<g stroke="#111" stroke-width="0.7" stroke-dasharray="1.2,1.1" fill="none">
<path d="M282,49L233,0M241,0L215.5,25.5M197,44L189,52M223,108L202,87M223,108V166"/>
</g>
<g stroke="#4a90e2" stroke-width="1.9" stroke-dasharray="7.8,6.8" fill="none"><path d="M52.3,107.9H276M52.3,229.8H276"/></g>
<circle cx="124.1" cy="217.9" r="15" fill="none" stroke="#000" stroke-width="2.2"/>
<circle cx="45.9" cy="107.8" r="5.9" fill="#ff5050" fill-opacity="0.4" stroke="#4a78c4" stroke-width="1.1"/>
<circle cx="281.8" cy="107.8" r="5.9" fill="#ff5050" fill-opacity="0.4" stroke="#4a78c4" stroke-width="1.1"/>
<circle cx="45.9" cy="229.7" r="5.9" fill="#ff5050" fill-opacity="0.4" stroke="#4a78c4" stroke-width="1.1"/>
<circle cx="282" cy="229.8" r="5.9" fill="#ff5050" fill-opacity="0.4" stroke="#4a78c4" stroke-width="1.1"/>
<circle cx="200.8" cy="134.5" r="5.9" fill="#ff5050" fill-opacity="0.4" stroke="#4a78c4" stroke-width="1.1"/>
<circle cx="110.5" cy="209.2" r="5.9" fill="#ff5050" fill-opacity="0.4" stroke="#4a78c4" stroke-width="1.1"/>
<path d="M116.3,235.3L55,318" stroke="#ed7d31" stroke-width="1.3" fill="none"/>
<path d="M51.5,322L53.2,314.2L59.3,318.6Z" fill="#ed7d31"/>
<circle cx="38.4" cy="359" r="35.4" fill="#b4fdce" stroke="#000" stroke-width="3"/>
<clipPath id="rz"><circle cx="38.4" cy="359" r="35"/></clipPath>
<g clip-path="url(#rz)" stroke="#30453a" stroke-width="0.5" fill="none" stroke-opacity="0.8"><path d="M42.4,334.3L14.3,374.7H52.1ZM42.4,334.3L29.9,357.8L35.8,361.4L42.8,358.8ZM42.4,334.3L35.8,361.4V369.3L14.3,374.7L29.9,357.8M35.8,369.3L52.1,374.7L42.8,358.8M42.4,334.3L17.5,371.5M42.4,334.3L31.8,324M42.4,334.3L43.8,322M42.4,334.3L54.7,326.5L60,322M42.4,334.3L20,338.5L4,341.5M42.4,334.3L68.7,342L74,344M52.1,374.7L74,378M52.1,374.7L41.8,395M14.3,374.7L2.5,355.8M14.3,374.7L23.9,393"/></g>
<circle cx="38.4" cy="359" r="35.5" fill="none" stroke="#000" stroke-width="2.8"/>
<g>
<rect x="403" y="51" width="233" height="234" fill="#16168c"/>
<path d="M403,51 626.9,51 626,66.9 624.9,74.8 623.5,80.7 621.5,86.7 618.2,93.1 615.3,96.6 614.3,97.5 612.3,98.5 611.9,102.6 613.1,104.5 614.3,114.2 616.3,115 618.2,116.6 620.2,118.8 623.8,124.4 626.3,130.3 628,136.3 629.3,142.2 633.4,168 634.5,172 636,173.2 636,285 403,285Z" fill="#1616ab"/>
<path d="M403,51 618.1,51 617.3,62.9 615.2,72.8 613.7,76.8 611.8,80.7 608.9,84.7 606.4,87.4 605.9,88.7 606.7,92.6 607,96.6 608.7,108.5 609.3,122.4 609.7,124.4 610.3,126.1 612.3,127 616.1,130.3 618.2,133.3 619.9,136.3 623.2,144.2 628.3,162.1 630.3,168 632.4,172 634,173.6 636,174.6 636,285 403,285Z" fill="#1616c9"/>
<path d="M403,51 610.1,51 609.3,60.9 607.7,68.8 606.3,72.8 604.5,76.8 600.6,82.7 601.1,84.7 603.9,106.5 606.3,130.3 611.9,136.3 615.6,142.2 618.4,148.2 624.7,164 627.7,170 630.9,173.9 634,175.9 636,176.5 636,285 403,285Z" fill="#161ce2"/>
<path d="M403,51 602.8,51 602.3,58.9 600.8,66.9 598.9,72.8 595.9,78.8 602.5,132.3 603,134.3 607.6,140.2 611.3,146.2 619.9,164 623.4,170 626.5,173.9 628.7,175.9 632.1,177.9 636,179 636,285 403,285Z" fill="#1639e2"/>
<path d="M403,51 596.1,51 595.6,58.9 594.8,64.9 592.8,72.8 592.2,74.8 591,76.8 591.6,78.8 596.5,118.4 599.1,136.3 599.8,138.3 602.4,141.7 605.2,146.2 615.6,166 619.6,172 623.1,175.9 628.1,179.7 632.1,181.5 636,182.2 636,285 403,285Z" fill="#1657e2"/>
<path d="M403,51 589.9,51 589.1,62.9 588.2,68.8 586.8,74.8 586.8,76.8 592.2,118.4 595.9,140.2 599.5,146.2 609.8,166 613.7,172 616.9,175.9 620.9,179.9 626.1,183.4 630.1,185.1 636,186.2 636,285 403,285Z" fill="#1674e2"/>
<path d="M403,51 584,51 583.6,62.9 582.3,74.8 582.5,76.8 585.3,100.6 587.5,116.4 590.2,132.3 592,140.2 597.9,154.1 602.6,164 607.3,172 611.7,177.9 616.3,182.6 622.2,186.9 628.1,189.6 632.1,190.6 636,191.1 636,285 403,285Z" fill="#1692e2"/>
<path d="M403,51 578.3,51 578.4,76.8 579.9,92.6 581.8,108.5 584.4,124.4 587.6,140.2 593.1,156.1 597.4,166 601.7,173.9 606.4,180.5 611.3,185.8 616.3,190 622.2,193.5 626.1,195.1 630.1,196.2 636,196.9 636,285 403,285Z" fill="#16b0e2"/>
<path d="M403,51 572.6,51 573,62.9 574.1,74.8 575,88.7 576.3,100.6 578.2,114.5 583.7,144.2 585.3,148.2 588.6,159.7 591,166 594.7,173.9 599.5,181.9 604.4,188.1 610.3,193.9 616.3,198.1 622.2,201.1 628.1,203 632.1,203.7 636,204.1 636,285 403,285Z" fill="#16cde2"/>
<path d="M403,51 566.8,51 567.1,58.9 568.1,66.9 569.3,72.8 570.5,74.8 570,78.8 570.7,90.7 571.9,102.6 573.9,116.4 577,132.3 580.5,146.2 581.2,152.1 582.3,158.1 584.5,166 587.5,173.9 591.4,181.9 596.5,189.8 602.4,196.8 608.4,202.2 614.3,206.3 618.2,208.5 622.2,210.2 630.1,212.3 636,212.9 636,285 403,285Z" fill="#16e2d4"/>
<path d="M403,51 560.6,51 561.1,58.9 562,64.9 564,72.8 565.6,76.8 565.5,80.7 566.2,92.6 568.6,112.5 571.6,128.3 575.4,144.2 575.8,146.2 576,154.1 576.7,160.1 577.9,166 579.5,172 583.3,181.9 588.6,192 594.5,200.5 598.5,205.1 602.4,209.1 610.3,215.4 618.2,219.8 626.1,222.7 632.1,223.8 636,224.1 636,285 403,285Z" fill="#16e2a3"/>
<path d="M403,51 553.9,51 554.5,58.9 555.6,64.9 557.3,70.8 560.6,78.8 562.3,100.6 565.3,120.4 568.9,136.3 570,140.2 571.7,144.2 570.6,148.2 570.2,152.1 570.4,162.1 572.1,172 575,181.9 577.3,187.8 580,193.8 585.6,203.7 592.6,213.4 600.5,222 608.4,228.7 614.3,232.7 618.2,234.8 622.2,236.5 628.1,238.4 632.1,239.1 636,239.4 636,285 403,285Z" fill="#16e272"/>
<path d="M403,51 546.4,51 547.1,58.9 548.8,66.9 551.1,72.8 553.2,76.8 556,80.7 556.4,82.7 557.1,96.6 559.1,112.5 562.7,130.3 564.6,138.3 566,142.2 564.1,150.2 563.4,156.1 563.3,162.1 564,170 566.4,181.9 570.3,193.8 575.6,205.7 582.7,218.4 590.6,230 600.5,242.1 610.3,252.3 620.2,260.6 624.2,263.2 628.1,265.3 632.1,266.8 636,267.4 636,285 403,285Z" fill="#16e242"/>
<path d="M403,51 537.9,51 538.2,56.9 538.8,60.9 540.3,66.9 541.7,70.8 543.5,74.8 545.8,78.8 548.9,82.7 551.1,84.4 551.9,86.7 551.8,92.6 553.5,108.5 556,122.4 559.8,138.3 560.1,140.2 557.8,146.2 556.3,152.1 555.7,156.1 555.3,162.1 555.5,168 556,173.9 557,179.9 558.8,187.8 562.9,201.4 568.6,215.6 574.8,228.8 587.2,253.3 591.6,263.2 593.7,269.1 595.4,275.1 596.3,281 596.6,285 403,285Z" fill="#1ae216"/>
<path d="M403,51 527.9,51 528.3,56.9 529.2,62.9 530.7,68.8 532.9,74.8 534.8,78.8 537.3,82.7 540.6,86.7 545.2,90.7 546.5,92.6 547,94.6 548.7,110.5 551.5,124.4 553.4,132.3 553.9,136.3 549.5,144.2 548.2,148.2 546.9,154.1 546.4,160.1 546.3,166 546.6,172 547.5,179.9 549.8,191.8 553.5,205.7 558.1,219.6 568,247.3 571.6,259.2 573.6,267.2 574.6,273.1 575.3,279.1 575.6,285 403,285Z" fill="#44e216"/>
<path d="M403,51 516.2,51 516.7,58.9 517.7,64.9 519.7,72.8 521.8,78.8 525.6,86.7 528.1,90.7 531.1,94.6 535.3,98.8 537.3,100.3 541.2,102.6 542.1,104.5 543.6,112.5 544.9,116.4 545.6,120.4 546.3,122.4 546.2,128.3 542.7,132.3 540.4,136.3 538.9,140.2 537.4,146.2 536.5,152.1 536.1,158.1 536.1,164 536.5,172 538.3,185.8 541.1,199.7 544.6,213.6 552.7,243.4 555.9,257.2 558.2,271.1 559,285 403,285Z" fill="#70e216"/>
<path d="M403,51 502.5,51 502.9,58.9 503.7,64.9 504.8,70.8 507,78.8 511.3,90.7 521.1,112.5 523,118.4 523.8,122.4 524.4,130.3 524.5,156.1 525.1,166 526.2,175.9 529.8,197.7 538.4,237.4 541.5,253.3 543.7,269.1 544.5,285 403,285Z" fill="#9ae216"/>
<path d="M403,51 486.2,51 487.1,62.9 488.5,70.8 489.9,76.8 494.2,90.7 504.3,118.4 506.6,126.4 508.8,136.3 516.2,183.9 525.6,233.4 528.2,249.3 530.4,267.2 531.2,285 403,285Z" fill="#c4e216"/>
<path d="M403,51 466.5,51 466.8,56.9 467.5,62.9 468.7,68.8 470.8,76.8 475,88.7 486.6,116.4 491.1,128.3 495.5,142.2 499.8,159.4 509,205.7 514.8,239.4 517.7,263.2 518.4,275.1 518.6,285 403,285Z" fill="#e2da16"/>
<path d="M403,51 439.1,51 439.6,56.9 441,62.9 443.1,68.8 445.7,74.8 451,84.7 468.2,114.4 473.4,124.4 477.1,132.3 482.7,146.2 487.9,162.4 492.9,181.9 497.5,203.7 501.6,227.5 504.3,247.3 506.1,267.2 506.7,285 403,285Z" fill="#e2bf16"/>
<path d="M403,86.7 403,84.8 405,85 410.9,86.1 416.8,88.2 420.8,90.2 426.7,93.8 436.6,101.7 446.4,111.8 454.3,121.6 462.2,133.6 468.9,146.2 474.7,160.1 479.2,173.9 483.4,189.8 487.2,207.7 490.6,227.5 493.1,247.3 494.7,267.2 495.2,285 403,285Z" fill="#e2a416"/>
<path d="M403,110.5 403,109.7 408.9,110.3 414.8,111.6 418.8,113 426.7,116.9 434.6,122.3 442.5,129.6 449.8,138.3 456.3,148.2 461.4,158.1 466.4,170 470.3,181.9 474.4,197.7 477.6,213.6 480.3,231.5 482.4,249.3 483.6,267.2 484.1,285 403,285Z" fill="#e28816"/>
<path d="M403,126.4 403,125.2 406.9,125.5 412.9,126.6 416.8,127.9 424.7,131.6 431.4,136.3 438.5,143 444.3,150.2 449.4,158.1 454.3,168 458.2,177.9 461.9,189.8 465.2,203.7 467.8,217.6 470.1,233.4 471.9,251.3 472.9,269.1 473.3,285 403,285Z" fill="#e26d16"/>
<path d="M403,138.3 403,136.5 408.9,137.2 412.9,138.2 416.8,139.7 420.8,141.7 427.2,146.2 432.6,151.4 437.8,158.1 442.6,166 447.1,175.9 450.6,185.8 453.8,197.7 456.3,209.6 458.6,223.5 460.2,237.4 461.6,253.3 462.4,269.1 462.7,285 403,285Z" fill="#e25216"/>
<path d="M403,146.2 403,145.1 405,145.2 408.9,145.9 412.9,147.2 418.8,150.5 423.3,154.1 428.6,160.1 432.6,166 436.6,173.9 439.7,181.9 442.7,191.8 445.1,201.7 447.3,213.6 448.9,225.5 450.4,239.4 451.6,255.3 452.2,269.1 452.4,285 403,285Z" fill="#e23716"/>
<path d="M403,152.1 403,151.6 405,151.8 408.9,152.8 410.9,153.7 414.9,156.1 419.2,160.1 422.4,164 426,170 429.5,177.9 432.1,185.8 434.2,193.8 436.3,203.7 438.1,215.6 439.5,227.5 441.6,255.3 442.3,285 403,285Z" fill="#e21c16"/>
<path d="M403,158.1 403,156.5 405,156.8 408.2,158.1 411.1,160.1 414.8,164 417.4,168 420.2,173.9 422.3,179.9 424.5,187.8 426.2,195.8 427.8,205.7 430.2,227.5 431.8,255.3 432.3,285 403,285Z" fill="#c91616"/>
<path d="M403,160.1 405,160.6 407.1,162.1 409,164 411.3,168 412.9,172 414.8,177.9 417.5,191.8 419.7,209.6 421.2,231.5 422.2,257.2 422.5,285 403,285Z" fill="#ab1616"/>
<path d="M403,164 403,162.4 405.1,164 406,166 407.2,170 408.9,179.9 410.2,191.8 411.2,207.7 412,229.5 412.7,285 403,285Z" fill="#8c1616"/>
</g>
<g transform="translate(403,51) scale(0.987288,0.991525)"><path d="M0,0L11.8,0M0,0L0,11.8M0,0L8.1,8.1M11.8,0L23.6,0M11.8,0L8.1,8.1M11.8,0L17.9,9.6M23.6,0L35.4,0M23.6,0L17.9,9.6M23.6,0L29.5,10.1M35.4,0L47.2,0M35.4,0L29.5,10.1M35.4,0L41.3,10.2M47.2,0L59,0M47.2,0L41.3,10.2M47.2,0L53.1,10.3M59,0L70.8,0M59,0L53.1,10.3M59,0L64.9,10.3M70.8,0L82.6,0M70.8,0L64.9,10.3M70.8,0L76.7,10.3M82.6,0L94.4,0M82.6,0L76.7,10.3M82.6,0L88.5,10.4M94.4,0L106.2,0M94.4,0L88.5,10.4M94.4,0L100.4,10.5M106.2,0L118,0M106.2,0L100.4,10.5M106.2,0L112.3,10.4M118,0L127.8,0M118,0L124.1,10.1M118,0L112.3,10.4M127.8,0L137.7,0M127.8,0L137.5,9M127.8,0L124.1,10.1M137.7,0L147.5,0M137.7,0L137.5,9M147.5,0L157.3,0M147.5,0L152,11.6M147.5,0L137.5,9M157.3,0L167.2,0M157.3,0L152,11.6M157.3,0L163.9,9.2M167.2,0L177,0M167.2,0L163.9,9.2M167.2,0L173.8,7.9M177,0L186.8,0M177,0L173.8,7.9M177,0L181.8,6.4M186.8,0L196.7,0M186.8,0L181.8,6.4M186.8,0L190.1,8.6M196.7,0L206.5,0M196.7,0L190.1,8.6M196.7,0L201.7,11.6M206.5,0L216.3,0M206.5,0L201.7,11.6M206.5,0L214.5,10.1M216.3,0L226.2,0M216.3,0L214.5,10.1M216.3,0L227,8.5M226.2,0L236,0M226.2,0L227,8.5M236,0L236,9.8M236,0L227,8.5M236,9.8L236,19.7M236,9.8L227,8.5M236,19.7L236,29.5M236,19.7L224.1,19.6M236,19.7L227,8.5M236,29.5L236,39.3M236,29.5L219.8,29.1M236,29.5L225.1,38M236,29.5L224.1,19.6M236,39.3L236,49.2M236,39.3L225.1,38M236,39.3L227.1,47.5M236,49.2L236,59M236,49.2L228.7,59M236,49.2L227.1,47.5M236,59L236,68.8M236,59L228.7,59M236,68.8L236,78.7M236,68.8L228.7,59M236,68.8L227.1,70.5M236,78.7L236,88.5M236,78.7L227.1,70.5M236,78.7L225.1,80M236,88.5L236,98.3M236,88.5L225.1,80M236,88.5L220,88.8M236,88.5L224.9,99.5M236,98.3L236,108.2M236,98.3L224.9,99.5M236,108.2L236,118M236,108.2L224.9,99.5M236,108.2L221.5,112.4M236,118L236,129.8M236,118L221.5,112.4M236,118L224.6,123.2M236,129.8L236,141.6M236,129.8L224.6,123.2M236,129.8L219.8,132.7M236,129.8L227,142.4M236,141.6L236,153.4M236,141.6L227,142.4M236,153.4L236,165.2M236,153.4L227,142.4M236,153.4L220.8,153.6M236,153.4L227.1,164.7M236,165.2L236,177M236,165.2L227.1,164.7M236,177L236,188.8M236,177L227.1,164.7M236,177L220.6,174.8M236,177L225.8,184M236,188.8L236,200.6M236,188.8L225.8,184M236,188.8L222.7,194.8M236,200.6L236,212.4M236,200.6L222.7,194.8M236,200.6L225.7,205.5M236,212.4L236,224.2M236,212.4L225.7,205.5M236,212.4L220.1,214.8M236,212.4L225,224.8M236,224.2L236,236M236,224.2L227.2,236M236,224.2L225,224.8M236,236L227.2,236M0,236L8.9,236M0,236L0,224.2M8.9,236L17.7,236M8.9,236L0,224.2M8.9,236L12.8,225.8M17.7,236L29.5,236M17.7,236L12.8,225.8M17.7,236L23.9,225.8M29.5,236L41.3,236M29.5,236L23.9,225.8M29.5,236L35.5,225.8M41.3,236L53.1,236M41.3,236L35.5,225.8M41.3,236L47.2,225.7M53.1,236L64.9,236M53.1,236L47.2,225.7M53.1,236L59,225.7M64.9,236L76.7,236M64.9,236L59,225.7M64.9,236L70.8,225.7M76.7,236L88.5,236M76.7,236L70.8,225.7M76.7,236L82.6,225.7M88.5,236L100.3,236M88.5,236L82.6,225.7M88.5,236L94.4,225.7M100.3,236L112.1,236M100.3,236L94.4,225.7M100.3,236L106.2,225.7M112.1,236L123.9,236M112.1,236L106.2,225.7M112.1,236L118,225.7M123.9,236L135.7,236M123.9,236L118,225.7M123.9,236L129.8,225.7M135.7,236L147.5,236M135.7,236L129.8,225.7M135.7,236L141.6,225.7M147.5,236L159.3,236M147.5,236L141.6,225.7M147.5,236L153.4,225.7M159.3,236L171.1,236M159.3,236L153.4,225.7M159.3,236L165.2,225.7M171.1,236L182.9,236M171.1,236L165.2,225.7M171.1,236L177,225.7M182.9,236L194.7,236M182.9,236L177,225.7M182.9,236L188.9,225.7M194.7,236L206.5,236M194.7,236L188.9,225.7M194.7,236L200.8,225.6M206.5,236L218.3,236M206.5,236L200.8,225.6M206.5,236L212.9,225.4M218.3,236L227.2,236M218.3,236L212.9,225.4M218.3,236L225,224.8M227.2,236L225,224.8M0,11.8L0,23.6M0,11.8L8.1,8.1M0,11.8L10.7,19.1M0,23.6L0,35.4M0,23.6L10.7,19.1M0,23.6L7.8,29.9M0,35.4L0,47.2M0,35.4L7.8,29.9M0,35.4L10.7,41.2M0,47.2L0,59M0,47.2L10.7,41.2M0,47.2L7.8,52.5M0,59L0,70.8M0,59L7.8,52.5M0,59L10.8,63.3M0,70.8L0,82.6M0,70.8L10.8,63.3M0,70.8L8.4,74.3M0,82.6L0,94.4M0,82.6L8.4,74.3M0,82.6L12.9,82.4M0,82.6L8.4,90.5M0,94.4L0,106.2M0,94.4L8.4,90.5M0,94.4L10.8,101.5M0,106.2L0,118M0,106.2L10.8,101.5M0,106.2L7.9,112.3M0,118L0,129.8M0,118L7.9,112.3M0,118L10.8,123.4M0,129.8L0,141.6M0,129.8L10.8,123.4M0,129.8L8.3,134.4M0,141.6L0,153.4M0,141.6L8.3,134.4M0,141.6L12.7,143.4M0,141.6L7.3,153.5M0,153.4L0,165.2M0,153.4L7.3,153.5M0,165.2L0,177M0,165.2L7.3,153.5M0,165.2L12.7,163.9M0,165.2L8.3,172.8M0,177L0,188.8M0,177L8.3,172.8M0,177L10.8,183.8M0,188.8L0,200.6M0,188.8L10.8,183.8M0,188.8L7.9,194.8M0,200.6L0,212.4M0,200.6L7.9,194.8M0,200.6L10.8,205.8M0,212.4L0,224.2M0,212.4L10.8,205.8M0,212.4L8.4,216.8M0,224.2L8.4,216.8M0,224.2L12.8,225.8M212.4,59L211.5,66.9M212.4,59L211.5,51.1M212.4,59L219.5,63.7M212.4,59L219.5,54.3M211.5,66.9L208.9,74.4M211.5,66.9L219.5,63.7M211.5,66.9L217.7,72.7M208.9,74.4L204.7,81.1M208.9,74.4L199.1,86.7M208.9,74.4L217.7,72.7M208.9,74.4L214.1,80.8M204.7,81.1L199.1,86.7M204.7,81.1L214.1,80.8M204.7,81.1L208.4,87.9M199.1,86.7L192.4,90.9M199.1,86.7L184.9,93.5M199.1,86.7L208.4,87.9M199.1,86.7L201.2,93.5M192.4,90.9L184.9,93.5M192.4,90.9L201.2,93.5M192.4,90.9L193.1,98M184.9,93.5L177,94.4M184.9,93.5L193.1,98M184.9,93.5L183.6,101.2M177,94.4L169.1,93.5M177,94.4L183.6,101.2M177,94.4L171.6,102.7M169.1,93.5L161.6,90.9M169.1,93.5L171.6,102.7M169.1,93.5L161.1,98.3M161.6,90.9L154.9,86.7M161.6,90.9L161.1,98.3M161.6,90.9L152.9,93.5M154.9,86.7L149.3,81.1M154.9,86.7L152.9,93.5M154.9,86.7L146.1,87.6M149.3,81.1L145.1,74.4M149.3,81.1L146.1,87.6M149.3,81.1L140.6,80.4M145.1,74.4L142.5,66.9M145.1,74.4L140.6,80.4M145.1,74.4L136.9,72.2M142.5,66.9L141.6,59M142.5,66.9L136.9,72.2M142.5,66.9L135.1,63.4M141.6,59L142.5,51.1M141.6,59L135.1,63.4M141.6,59L135.1,54.4M142.5,51.1L145.1,43.6M142.5,51.1L135.1,54.4M142.5,51.1L137.1,45.7M145.1,43.6L149.3,36.9M145.1,43.6L137.1,45.7M145.1,43.6L140.8,37.4M149.3,36.9L154.9,31.3M149.3,36.9L140.8,37.4M149.3,36.9L146.1,29.9M154.9,31.3L161.6,27.1M154.9,31.3L146.1,29.9M154.9,31.3L153.2,23.2M161.6,27.1L169.1,24.5M161.6,27.1L153.2,23.2M161.6,27.1L161.8,18.7M169.1,24.5L177,23.6M169.1,24.5L161.8,18.7M169.1,24.5L171.2,16.6M177,23.6L184.9,24.5M177,23.6L171.2,16.6M177,23.6L181.5,15.2M184.9,24.5L192.4,27.1M184.9,24.5L181.5,15.2M184.9,24.5L191.9,18.4M192.4,27.1L199.1,31.3M192.4,27.1L191.9,18.4M192.4,27.1L200.8,23.2M199.1,31.3L204.7,36.9M199.1,31.3L200.8,23.2M199.1,31.3L208.3,29.7M204.7,36.9L208.9,43.6M204.7,36.9L208.3,29.7M204.7,36.9L214,37.1M208.9,43.6L211.5,51.1M208.9,43.6L214,37.1M208.9,43.6L217.7,45.3M211.5,51.1L217.7,45.3M211.5,51.1L219.5,54.3M219.5,63.7L217.7,72.7M219.5,63.7L219.5,54.3M219.5,63.7L228.7,59M219.5,63.7L227.1,70.5M217.7,72.7L214.1,80.8M217.7,72.7L227.1,70.5M217.7,72.7L225.1,80M214.1,80.8L208.4,87.9M214.1,80.8L225.1,80M214.1,80.8L220,88.8M208.4,87.9L201.2,93.5M208.4,87.9L220,88.8M208.4,87.9L211.7,96M201.2,93.5L193.1,98M201.2,93.5L211.7,96M201.2,93.5L203.1,101.6M193.1,98L183.6,101.2M193.1,98L203.1,101.6M193.1,98L193.7,106.9M183.6,101.2L171.6,102.7M183.6,101.2L193.7,106.9M183.6,101.2L181.5,112.2M171.6,102.7L161.1,98.3M171.6,102.7L181.5,112.2M171.6,102.7L169,112.5M171.6,102.7L160.2,107.4M161.1,98.3L152.9,93.5M161.1,98.3L160.2,107.4M161.1,98.3L151,102M152.9,93.5L146.1,87.6M152.9,93.5L151,102M152.9,93.5L142.7,95.7M146.1,87.6L140.6,80.4M146.1,87.6L142.7,95.7M146.1,87.6L135.8,87.9M140.6,80.4L136.9,72.2M140.6,80.4L135.8,87.9M140.6,80.4L130.6,78.8M136.9,72.2L135.1,63.4M136.9,72.2L130.6,78.8M136.9,72.2L127.6,68.9M135.1,63.4L135.1,54.4M135.1,63.4L127.6,68.9M135.1,63.4L126.7,58.7M135.1,54.4L137.1,45.7M135.1,54.4L126.7,58.7M135.1,54.4L127.9,48.5M137.1,45.7L140.8,37.4M137.1,45.7L127.9,48.5M137.1,45.7L131.1,38.8M140.8,37.4L146.1,29.9M140.8,37.4L131.1,38.8M140.8,37.4L136,29.6M146.1,29.9L153.2,23.2M146.1,29.9L136,29.6M146.1,29.9L142.5,20.6M153.2,23.2L161.8,18.7M153.2,23.2L142.5,20.6M153.2,23.2L152,11.6M161.8,18.7L171.2,16.6M161.8,18.7L152,11.6M161.8,18.7L163.9,9.2M171.2,16.6L181.5,15.2M171.2,16.6L163.9,9.2M171.2,16.6L173.8,7.9M181.5,15.2L191.9,18.4M181.5,15.2L173.8,7.9M181.5,15.2L181.8,6.4M181.5,15.2L190.1,8.6M191.9,18.4L200.8,23.2M191.9,18.4L190.1,8.6M191.9,18.4L201.7,11.6M200.8,23.2L208.3,29.7M200.8,23.2L201.7,11.6M200.8,23.2L211.5,20.6M208.3,29.7L214,37.1M208.3,29.7L211.5,20.6M208.3,29.7L219.8,29.1M214,37.1L217.7,45.3M214,37.1L219.8,29.1M214,37.1L225.1,38M217.7,45.3L219.5,54.3M217.7,45.3L225.1,38M217.7,45.3L227.1,47.5M219.5,54.3L228.7,59M219.5,54.3L227.1,47.5M228.7,59L227.1,70.5M228.7,59L227.1,47.5M227.1,70.5L225.1,80M225.1,80L220,88.8M220,88.8L211.7,96M220,88.8L224.9,99.5M211.7,96L203.1,101.6M211.7,96L224.9,99.5M211.7,96L213.3,104.1M203.1,101.6L193.7,106.9M203.1,101.6L213.3,104.1M203.1,101.6L206,110.9M193.7,106.9L181.5,112.2M193.7,106.9L206,110.9M193.7,106.9L195.3,117.6M181.5,112.2L169,112.5M181.5,112.2L195.3,117.6M181.5,112.2L185.2,123M181.5,112.2L172.4,123.1M169,112.5L160.2,107.4M169,112.5L172.4,123.1M169,112.5L159.3,118.1M160.2,107.4L151,102M160.2,107.4L159.3,118.1M160.2,107.4L149.1,111.7M151,102L142.7,95.7M151,102L149.1,111.7M151,102L139.8,105.3M142.7,95.7L135.8,87.9M142.7,95.7L139.8,105.3M142.7,95.7L130.7,97.5M135.8,87.9L130.6,78.8M135.8,87.9L130.7,97.5M135.8,87.9L123.7,87.3M130.6,78.8L127.6,68.9M130.6,78.8L123.7,87.3M130.6,78.8L119.1,75.9M127.6,68.9L126.7,58.7M127.6,68.9L119.1,75.9M127.6,68.9L117.2,64.1M126.7,58.7L127.9,48.5M126.7,58.7L117.2,64.1M126.7,58.7L117.7,52.3M127.9,48.5L131.1,38.8M127.9,48.5L117.7,52.3M127.9,48.5L120.3,40.9M131.1,38.8L136,29.6M131.1,38.8L120.3,40.9M131.1,38.8L124.9,30.3M136,29.6L142.5,20.6M136,29.6L124.9,30.3M136,29.6L130.6,20.1M142.5,20.6L152,11.6M142.5,20.6L130.6,20.1M142.5,20.6L137.5,9M152,11.6L163.9,9.2M152,11.6L137.5,9M163.9,9.2L173.8,7.9M173.8,7.9L181.8,6.4M181.8,6.4L190.1,8.6M190.1,8.6L201.7,11.6M201.7,11.6L211.5,20.6M201.7,11.6L214.5,10.1M211.5,20.6L219.8,29.1M211.5,20.6L214.5,10.1M211.5,20.6L224.1,19.6M219.8,29.1L225.1,38M219.8,29.1L224.1,19.6M225.1,38L227.1,47.5M224.9,99.5L213.3,104.1M224.9,99.5L221.5,112.4M213.3,104.1L206,110.9M213.3,104.1L221.5,112.4M206,110.9L195.3,117.6M206,110.9L221.5,112.4M206,110.9L210,123.1M195.3,117.6L185.2,123M195.3,117.6L210,123.1M195.3,117.6L195.7,130.7M185.2,123L172.4,123.1M185.2,123L195.7,130.7M185.2,123L181.6,132.5M172.4,123.1L159.3,118.1M172.4,123.1L181.6,132.5M172.4,123.1L170.9,134.3M172.4,123.1L159.1,131.2M159.3,118.1L149.1,111.7M159.3,118.1L159.1,131.2M159.3,118.1L146,123.7M149.1,111.7L139.8,105.3M149.1,111.7L146,123.7M149.1,111.7L138.6,114.7M139.8,105.3L130.7,97.5M139.8,105.3L138.6,114.7M139.8,105.3L126.8,110.3M130.7,97.5L123.7,87.3M130.7,97.5L126.8,110.3M130.7,97.5L115.8,98.5M123.7,87.3L119.1,75.9M123.7,87.3L115.8,98.5M123.7,87.3L110.4,85M119.1,75.9L117.2,64.1M119.1,75.9L110.4,85M119.1,75.9L105.1,71.1M117.2,64.1L117.7,52.3M117.2,64.1L105.1,71.1M117.2,64.1L106.9,57.3M117.7,52.3L120.3,40.9M117.7,52.3L106.9,57.3M117.7,52.3L107.3,43.9M120.3,40.9L124.9,30.3M120.3,40.9L107.3,43.9M120.3,40.9L113,31.5M124.9,30.3L130.6,20.1M124.9,30.3L113,31.5M124.9,30.3L118.5,20.6M130.6,20.1L137.5,9M130.6,20.1L118.5,20.6M130.6,20.1L124.1,10.1M137.5,9L124.1,10.1M214.5,10.1L224.1,19.6M214.5,10.1L227,8.5M224.1,19.6L227,8.5M221.5,112.4L210,123.1M221.5,112.4L224.6,123.2M210,123.1L195.7,130.7M210,123.1L224.6,123.2M210,123.1L208,134.4M210,123.1L219.8,132.7M195.7,130.7L181.6,132.5M195.7,130.7L208,134.4M195.7,130.7L188.8,142.5M195.7,130.7L201.4,142.9M181.6,132.5L170.9,134.3M181.6,132.5L176.7,143M181.6,132.5L188.8,142.5M170.9,134.3L159.1,131.2M170.9,134.3L165,142.9M170.9,134.3L176.7,143M159.1,131.2L146,123.7M159.1,131.2L147.3,135M159.1,131.2L153.3,143.2M159.1,131.2L165,142.9M146,123.7L138.6,114.7M146,123.7L131.9,122.9M146,123.7L136.9,133.6M146,123.7L147.3,135M138.6,114.7L126.8,110.3M138.6,114.7L131.9,122.9M126.8,110.3L115.8,98.5M126.8,110.3L112.1,111.7M126.8,110.3L119,122.2M126.8,110.3L131.9,122.9M115.8,98.5L110.4,85M115.8,98.5L101.9,94.4M115.8,98.5L104.9,104.1M115.8,98.5L112.1,111.7M110.4,85L105.1,71.1M110.4,85L96.7,82.9M110.4,85L101.9,94.4M105.1,71.1L106.9,57.3M105.1,71.1L95.4,60.7M105.1,71.1L90.2,71.7M105.1,71.1L96.7,82.9M106.9,57.3L107.3,43.9M106.9,57.3L98.5,51M106.9,57.3L95.4,60.7M107.3,43.9L113,31.5M107.3,43.9L100.7,31.8M107.3,43.9L94.4,41.8M107.3,43.9L98.5,51M113,31.5L118.5,20.6M113,31.5L106.6,21M113,31.5L100.7,31.8M118.5,20.6L124.1,10.1M118.5,20.6L112.3,10.4M118.5,20.6L106.6,21M124.1,10.1L112.3,10.4M8.1,8.1L17.9,9.6M8.1,8.1L10.7,19.1M17.9,9.6L29.5,10.1M17.9,9.6L10.7,19.1M17.9,9.6L23.5,20.1M29.5,10.1L41.3,10.2M29.5,10.1L23.5,20.1M29.5,10.1L35.4,20.4M41.3,10.2L53.1,10.3M41.3,10.2L35.4,20.4M41.3,10.2L47.2,20.5M53.1,10.3L64.9,10.3M53.1,10.3L47.2,20.5M53.1,10.3L59,20.5M64.9,10.3L76.7,10.3M64.9,10.3L59,20.5M64.9,10.3L70.8,20.6M76.7,10.3L88.5,10.4M76.7,10.3L70.8,20.6M76.7,10.3L82.7,20.7M88.5,10.4L100.4,10.5M88.5,10.4L82.7,20.7M88.5,10.4L94.6,20.9M100.4,10.5L112.3,10.4M100.4,10.5L94.6,20.9M100.4,10.5L106.6,21M112.3,10.4L106.6,21M10.7,19.1L23.5,20.1M10.7,19.1L7.8,29.9M10.7,19.1L17.6,30.4M23.5,20.1L35.4,20.4M23.5,20.1L17.6,30.4M23.5,20.1L29.5,30.6M35.4,20.4L47.2,20.5M35.4,20.4L29.5,30.6M35.4,20.4L41.3,30.7M47.2,20.5L59,20.5M47.2,20.5L41.3,30.7M47.2,20.5L53.1,30.8M59,20.5L70.8,20.6M59,20.5L53.1,30.8M59,20.5L64.9,30.8M70.8,20.6L82.7,20.7M70.8,20.6L64.9,30.8M70.8,20.6L76.7,31M82.7,20.7L94.6,20.9M82.7,20.7L76.7,31M82.7,20.7L88.6,31.2M94.6,20.9L106.6,21M94.6,20.9L88.6,31.2M94.6,20.9L100.7,31.8M106.6,21L100.7,31.8M7.8,29.9L17.6,30.4M7.8,29.9L10.7,41.2M17.6,30.4L29.5,30.6M17.6,30.4L10.7,41.2M17.6,30.4L23.4,41.1M29.5,30.6L41.3,30.7M29.5,30.6L23.4,41.1M29.5,30.6L35.4,41.1M41.3,30.7L53.1,30.8M41.3,30.7L35.4,41.1M41.3,30.7L47.2,41.1M53.1,30.8L64.9,30.8M53.1,30.8L47.2,41.1M53.1,30.8L59,41.1M64.9,30.8L76.7,31M64.9,30.8L59,41.1M64.9,30.8L70.8,41.1M76.7,31L88.6,31.2M76.7,31L70.8,41.1M76.7,31L82.6,41.3M88.6,31.2L100.7,31.8M88.6,31.2L82.6,41.3M88.6,31.2L94.4,41.8M100.7,31.8L94.4,41.8M10.7,41.2L23.4,41.1M10.7,41.2L7.8,52.5M10.7,41.2L17.7,51.9M23.4,41.1L35.4,41.1M23.4,41.1L17.7,51.9M23.4,41.1L29.5,51.5M35.4,41.1L47.2,41.1M35.4,41.1L29.5,51.5M35.4,41.1L41.3,51.4M47.2,41.1L59,41.1M47.2,41.1L41.3,51.4M47.2,41.1L53.1,51.3M59,41.1L70.8,41.1M59,41.1L53.1,51.3M59,41.1L65,51.3M70.8,41.1L82.6,41.3M70.8,41.1L65,51.3M70.8,41.1L76.8,51.3M82.6,41.3L94.4,41.8M82.6,41.3L76.8,51.3M82.6,41.3L88.5,51.3M94.4,41.8L88.5,51.3M94.4,41.8L98.5,51M7.8,52.5L17.7,51.9M7.8,52.5L10.8,63.3M17.7,51.9L29.5,51.5M17.7,51.9L10.8,63.3M17.7,51.9L23.6,62.2M29.5,51.5L41.3,51.4M29.5,51.5L23.6,62.2M29.5,51.5L35.4,61.7M41.3,51.4L53.1,51.3M41.3,51.4L35.4,61.7M41.3,51.4L47.2,61.6M53.1,51.3L65,51.3M53.1,51.3L47.2,61.6M53.1,51.3L59.1,61.6M65,51.3L76.8,51.3M65,51.3L59.1,61.6M65,51.3L71,61.6M76.8,51.3L88.5,51.3M76.8,51.3L71,61.6M76.8,51.3L83.2,61.4M88.5,51.3L98.5,51M88.5,51.3L83.2,61.4M88.5,51.3L95.4,60.7M98.5,51L95.4,60.7M10.8,63.3L23.6,62.2M10.8,63.3L8.4,74.3M10.8,63.3L18.2,72.7M23.6,62.2L35.4,61.7M23.6,62.2L18.2,72.7M23.6,62.2L29.7,72.1M35.4,61.7L47.2,61.6M35.4,61.7L29.7,72.1M35.4,61.7L41.4,71.9M47.2,61.6L59.1,61.6M47.2,61.6L41.4,71.9M47.2,61.6L53.2,71.8M59.1,61.6L71,61.6M59.1,61.6L53.2,71.8M59.1,61.6L65.1,71.8M71,61.6L83.2,61.4M71,61.6L65.1,71.8M71,61.6L77.3,71.8M83.2,61.4L95.4,60.7M83.2,61.4L77.3,71.8M83.2,61.4L90.2,71.7M95.4,60.7L90.2,71.7M8.4,74.3L18.2,72.7M8.4,74.3L12.9,82.4M18.2,72.7L29.7,72.1M18.2,72.7L12.9,82.4M18.2,72.7L24,82.2M29.7,72.1L41.4,71.9M29.7,72.1L24,82.2M29.7,72.1L35.6,82.1M41.4,71.9L53.2,71.8M41.4,71.9L35.6,82.1M41.4,71.9L47.3,82.1M53.2,71.8L65.1,71.8M53.2,71.8L47.3,82.1M53.2,71.8L59.1,82.1M65.1,71.8L77.3,71.8M65.1,71.8L59.1,82.1M65.1,71.8L71.2,82.1M77.3,71.8L90.2,71.7M77.3,71.8L71.2,82.1M77.3,71.8L83.6,82.3M90.2,71.7L83.6,82.3M90.2,71.7L96.7,82.9M12.9,82.4L24,82.2M12.9,82.4L8.4,90.5M12.9,82.4L18.2,91.9M24,82.2L35.6,82.1M24,82.2L18.2,91.9M24,82.2L29.7,92.2M35.6,82.1L47.3,82.1M35.6,82.1L29.7,92.2M35.6,82.1L41.4,92.3M47.3,82.1L59.1,82.1M47.3,82.1L41.4,92.3M47.3,82.1L53.2,92.4M59.1,82.1L71.2,82.1M59.1,82.1L53.2,92.4M59.1,82.1L65,92.4M71.2,82.1L83.6,82.3M71.2,82.1L65,92.4M71.2,82.1L77.1,92.5M83.6,82.3L96.7,82.9M83.6,82.3L77.1,92.5M83.6,82.3L89.4,93M96.7,82.9L89.4,93M96.7,82.9L101.9,94.4M8.4,90.5L18.2,91.9M8.4,90.5L10.8,101.5M18.2,91.9L29.7,92.2M18.2,91.9L10.8,101.5M18.2,91.9L23.6,102.3M29.7,92.2L41.4,92.3M29.7,92.2L23.6,102.3M29.7,92.2L35.4,102.5M41.4,92.3L53.2,92.4M41.4,92.3L35.4,102.5M41.4,92.3L47.2,102.6M53.2,92.4L65,92.4M53.2,92.4L47.2,102.6M53.2,92.4L59,102.6M65,92.4L77.1,92.5M65,92.4L59,102.6M65,92.4L70.9,102.7M77.1,92.5L89.4,93M77.1,92.5L70.9,102.7M77.1,92.5L82.9,102.8M89.4,93L101.9,94.4M89.4,93L82.9,102.8M89.4,93L94.6,103.3M101.9,94.4L94.6,103.3M101.9,94.4L104.9,104.1M10.8,101.5L23.6,102.3M10.8,101.5L7.9,112.3M10.8,101.5L17.7,112.6M23.6,102.3L35.4,102.5M23.6,102.3L17.7,112.6M23.6,102.3L29.5,112.8M35.4,102.5L47.2,102.6M35.4,102.5L29.5,112.8M35.4,102.5L41.3,112.8M47.2,102.6L59,102.6M47.2,102.6L41.3,112.8M47.2,102.6L53.1,112.9M59,102.6L70.9,102.7M59,102.6L53.1,112.9M59,102.6L64.9,112.9M70.9,102.7L82.9,102.8M70.9,102.7L64.9,112.9M70.9,102.7L76.8,112.9M82.9,102.8L94.6,103.3M82.9,102.8L76.8,112.9M82.9,102.8L88.5,113M94.6,103.3L104.9,104.1M94.6,103.3L88.5,113M94.6,103.3L100.1,112.9M104.9,104.1L100.1,112.9M104.9,104.1L112.1,111.7M7.9,112.3L17.7,112.6M7.9,112.3L10.8,123.4M17.7,112.6L29.5,112.8M17.7,112.6L10.8,123.4M17.7,112.6L23.6,123.2M29.5,112.8L41.3,112.8M29.5,112.8L23.6,123.2M29.5,112.8L35.4,123.1M41.3,112.8L53.1,112.9M41.3,112.8L35.4,123.1M41.3,112.8L47.2,123.1M53.1,112.9L64.9,112.9M53.1,112.9L47.2,123.1M53.1,112.9L59,123.1M64.9,112.9L76.8,112.9M64.9,112.9L59,123.1M64.9,112.9L70.8,123.1M76.8,112.9L88.5,113M76.8,112.9L70.8,123.1M76.8,112.9L82.6,123.1M88.5,113L100.1,112.9M88.5,113L82.6,123.1M88.5,113L94.4,123M100.1,112.9L112.1,111.7M100.1,112.9L94.4,123M100.1,112.9L106.4,122.7M112.1,111.7L106.4,122.7M112.1,111.7L119,122.2M10.8,123.4L23.6,123.2M10.8,123.4L8.3,134.4M10.8,123.4L18.2,133.6M23.6,123.2L35.4,123.1M23.6,123.2L18.2,133.6M23.6,123.2L29.7,133.4M35.4,123.1L47.2,123.1M35.4,123.1L29.7,133.4M35.4,123.1L41.4,133.4M47.2,123.1L59,123.1M47.2,123.1L41.4,133.4M47.2,123.1L53.1,133.4M59,123.1L70.8,123.1M59,123.1L53.1,133.4M59,123.1L64.9,133.4M70.8,123.1L82.6,123.1M70.8,123.1L64.9,133.4M70.8,123.1L76.7,133.4M82.6,123.1L94.4,123M82.6,123.1L76.7,133.4M82.6,123.1L88.5,133.3M94.4,123L106.4,122.7M94.4,123L88.5,133.3M94.4,123L100.4,133.2M106.4,122.7L119,122.2M106.4,122.7L100.4,133.2M106.4,122.7L112.4,133M119,122.2L131.9,122.9M119,122.2L112.4,133M119,122.2L124.7,133.1M131.9,122.9L124.7,133.1M131.9,122.9L136.9,133.6M224.6,123.2L219.8,132.7M8.3,134.4L18.2,133.6M8.3,134.4L12.7,143.4M18.2,133.6L29.7,133.4M18.2,133.6L12.7,143.4M18.2,133.6L24,143.6M29.7,133.4L41.4,133.4M29.7,133.4L24,143.6M29.7,133.4L35.6,143.6M41.4,133.4L53.1,133.4M41.4,133.4L35.6,143.6M41.4,133.4L47.3,143.6M53.1,133.4L64.9,133.4M53.1,133.4L47.3,143.6M53.1,133.4L59,143.7M64.9,133.4L76.7,133.4M64.9,133.4L59,143.7M64.9,133.4L70.8,143.6M76.7,133.4L88.5,133.3M76.7,133.4L70.8,143.6M76.7,133.4L82.6,143.6M88.5,133.3L100.4,133.2M88.5,133.3L82.6,143.6M88.5,133.3L94.4,143.6M100.4,133.2L112.4,133M100.4,133.2L94.4,143.6M100.4,133.2L106.3,143.5M112.4,133L124.7,133.1M112.4,133L106.3,143.5M112.4,133L118.2,143.5M124.7,133.1L136.9,133.6M124.7,133.1L118.2,143.5M124.7,133.1L130.2,143.6M136.9,133.6L147.3,135M136.9,133.6L130.2,143.6M136.9,133.6L141.8,143.7M147.3,135L141.8,143.7M147.3,135L153.3,143.2M208,134.4L219.8,132.7M208,134.4L201.4,142.9M208,134.4L214,143.2M219.8,132.7L214,143.2M219.8,132.7L227,142.4M12.7,143.4L24,143.6M12.7,143.4L7.3,153.5M12.7,143.4L18.4,153.7M24,143.6L35.6,143.6M24,143.6L18.4,153.7M24,143.6L29.8,153.8M35.6,143.6L47.3,143.6M35.6,143.6L29.8,153.8M35.6,143.6L41.4,153.9M47.3,143.6L59,143.7M47.3,143.6L41.4,153.9M47.3,143.6L53.1,153.9M59,143.7L70.8,143.6M59,143.7L53.1,153.9M59,143.7L64.9,153.9M70.8,143.6L82.6,143.6M70.8,143.6L64.9,153.9M70.8,143.6L76.7,153.9M82.6,143.6L94.4,143.6M82.6,143.6L76.7,153.9M82.6,143.6L88.5,153.9M94.4,143.6L106.3,143.5M94.4,143.6L88.5,153.9M94.4,143.6L100.3,153.9M106.3,143.5L118.2,143.5M106.3,143.5L100.3,153.9M106.3,143.5L112.2,153.9M118.2,143.5L130.2,143.6M118.2,143.5L112.2,153.9M118.2,143.5L124,153.8M130.2,143.6L141.8,143.7M130.2,143.6L124,153.8M130.2,143.6L135.8,153.8M141.8,143.7L153.3,143.2M141.8,143.7L135.8,153.8M141.8,143.7L147.5,153.7M153.3,143.2L165,142.9M153.3,143.2L147.5,153.7M153.3,143.2L159.2,153.5M165,142.9L176.7,143M165,142.9L159.2,153.5M165,142.9L171,153.3M176.7,143L188.8,142.5M176.7,143L171,153.3M176.7,143L182.9,153.3M188.8,142.5L201.4,142.9M188.8,142.5L182.9,153.3M188.8,142.5L195,153.3M201.4,142.9L214,143.2M201.4,142.9L195,153.3M201.4,142.9L207.6,153.5M214,143.2L227,142.4M214,143.2L207.6,153.5M214,143.2L220.8,153.6M227,142.4L220.8,153.6M7.3,153.5L18.4,153.7M7.3,153.5L12.7,163.9M18.4,153.7L29.8,153.8M18.4,153.7L12.7,163.9M18.4,153.7L24,164M29.8,153.8L41.4,153.9M29.8,153.8L24,164M29.8,153.8L35.6,164.1M41.4,153.9L53.1,153.9M41.4,153.9L35.6,164.1M41.4,153.9L47.3,164.2M53.1,153.9L64.9,153.9M53.1,153.9L47.3,164.2M53.1,153.9L59,164.2M64.9,153.9L76.7,153.9M64.9,153.9L59,164.2M64.9,153.9L70.8,164.2M76.7,153.9L88.5,153.9M76.7,153.9L70.8,164.2M76.7,153.9L82.6,164.2M88.5,153.9L100.3,153.9M88.5,153.9L82.6,164.2M88.5,153.9L94.4,164.2M100.3,153.9L112.2,153.9M100.3,153.9L94.4,164.2M100.3,153.9L106.2,164.2M112.2,153.9L124,153.8M112.2,153.9L106.2,164.2M112.2,153.9L118,164.1M124,153.8L135.8,153.8M124,153.8L118,164.1M124,153.8L129.8,164.1M135.8,153.8L147.5,153.7M135.8,153.8L129.8,164.1M135.8,153.8L141.6,164.1M147.5,153.7L159.2,153.5M147.5,153.7L141.6,164.1M147.5,153.7L153.4,164M159.2,153.5L171,153.3M159.2,153.5L153.4,164M159.2,153.5L165.2,163.9M171,153.3L182.9,153.3M171,153.3L165.2,163.9M171,153.3L177,163.8M182.9,153.3L195,153.3M182.9,153.3L177,163.8M182.9,153.3L189,163.9M195,153.3L207.6,153.5M195,153.3L189,163.9M195,153.3L201.2,164M207.6,153.5L220.8,153.6M207.6,153.5L201.2,164M207.6,153.5L214,164.2M220.8,153.6L214,164.2M220.8,153.6L227.1,164.7M12.7,163.9L24,164M12.7,163.9L8.3,172.8M12.7,163.9L18.2,173.9M24,164L35.6,164.1M24,164L18.2,173.9M24,164L29.7,174.3M35.6,164.1L47.3,164.2M35.6,164.1L29.7,174.3M35.6,164.1L41.4,174.4M47.3,164.2L59,164.2M47.3,164.2L41.4,174.4M47.3,164.2L53.1,174.4M59,164.2L70.8,164.2M59,164.2L53.1,174.4M59,164.2L64.9,174.4M70.8,164.2L82.6,164.2M70.8,164.2L64.9,174.4M70.8,164.2L76.7,174.4M82.6,164.2L94.4,164.2M82.6,164.2L76.7,174.4M82.6,164.2L88.5,174.4M94.4,164.2L106.2,164.2M94.4,164.2L88.5,174.4M94.4,164.2L100.3,174.4M106.2,164.2L118,164.1M106.2,164.2L100.3,174.4M106.2,164.2L112.1,174.4M118,164.1L129.8,164.1M118,164.1L112.1,174.4M118,164.1L123.9,174.4M129.8,164.1L141.6,164.1M129.8,164.1L123.9,174.4M129.8,164.1L135.7,174.4M141.6,164.1L153.4,164M141.6,164.1L135.7,174.4M141.6,164.1L147.5,174.4M153.4,164L165.2,163.9M153.4,164L147.5,174.4M153.4,164L159.3,174.3M165.2,163.9L177,163.8M165.2,163.9L159.3,174.3M165.2,163.9L171.1,174.3M177,163.8L189,163.9M177,163.8L171.1,174.3M177,163.8L183,174.3M189,163.9L201.2,164M189,163.9L183,174.3M189,163.9L195.1,174.3M201.2,164L214,164.2M201.2,164L195.1,174.3M201.2,164L207.6,174.5M214,164.2L227.1,164.7M214,164.2L207.6,174.5M214,164.2L220.6,174.8M227.1,164.7L220.6,174.8M8.3,172.8L18.2,173.9M8.3,172.8L10.8,183.8M18.2,173.9L29.7,174.3M18.2,173.9L10.8,183.8M18.2,173.9L23.6,184.4M29.7,174.3L41.4,174.4M29.7,174.3L23.6,184.4M29.7,174.3L35.4,184.6M41.4,174.4L53.1,174.4M41.4,174.4L35.4,184.6M41.4,174.4L47.2,184.7M53.1,174.4L64.9,174.4M53.1,174.4L47.2,184.7M53.1,174.4L59,184.7M64.9,174.4L76.7,174.4M64.9,174.4L59,184.7M64.9,174.4L70.8,184.7M76.7,174.4L88.5,174.4M76.7,174.4L70.8,184.7M76.7,174.4L82.6,184.7M88.5,174.4L100.3,174.4M88.5,174.4L82.6,184.7M88.5,174.4L94.4,184.7M100.3,174.4L112.1,174.4M100.3,174.4L94.4,184.7M100.3,174.4L106.2,184.7M112.1,174.4L123.9,174.4M112.1,174.4L106.2,184.7M112.1,174.4L118,184.7M123.9,174.4L135.7,174.4M123.9,174.4L118,184.7M123.9,174.4L129.8,184.7M135.7,174.4L147.5,174.4M135.7,174.4L129.8,184.7M135.7,174.4L141.6,184.7M147.5,174.4L159.3,174.3M147.5,174.4L141.6,184.7M147.5,174.4L153.4,184.7M159.3,174.3L171.1,174.3M159.3,174.3L153.4,184.7M159.3,174.3L165.2,184.7M171.1,174.3L183,174.3M171.1,174.3L165.2,184.7M171.1,174.3L177,184.7M183,174.3L195.1,174.3M183,174.3L177,184.7M183,174.3L189,184.7M195.1,174.3L207.6,174.5M195.1,174.3L189,184.7M195.1,174.3L201.3,184.7M207.6,174.5L220.6,174.8M207.6,174.5L201.3,184.7M207.6,174.5L214.1,184.6M220.6,174.8L214.1,184.6M220.6,174.8L225.8,184M10.8,183.8L23.6,184.4M10.8,183.8L7.9,194.8M10.8,183.8L17.7,194.9M23.6,184.4L35.4,184.6M23.6,184.4L17.7,194.9M23.6,184.4L29.5,194.9M35.4,184.6L47.2,184.7M35.4,184.6L29.5,194.9M35.4,184.6L41.3,194.9M47.2,184.7L59,184.7M47.2,184.7L41.3,194.9M47.2,184.7L53.1,195M59,184.7L70.8,184.7M59,184.7L53.1,195M59,184.7L64.9,195M70.8,184.7L82.6,184.7M70.8,184.7L64.9,195M70.8,184.7L76.7,195M82.6,184.7L94.4,184.7M82.6,184.7L76.7,195M82.6,184.7L88.5,195M94.4,184.7L106.2,184.7M94.4,184.7L88.5,195M94.4,184.7L100.3,195M106.2,184.7L118,184.7M106.2,184.7L100.3,195M106.2,184.7L112.1,195M118,184.7L129.8,184.7M118,184.7L112.1,195M118,184.7L123.9,195M129.8,184.7L141.6,184.7M129.8,184.7L123.9,195M129.8,184.7L135.7,195M141.6,184.7L153.4,184.7M141.6,184.7L135.7,195M141.6,184.7L147.5,195M153.4,184.7L165.2,184.7M153.4,184.7L147.5,195M153.4,184.7L159.3,194.9M165.2,184.7L177,184.7M165.2,184.7L159.3,194.9M165.2,184.7L171.1,194.9M177,184.7L189,184.7M177,184.7L171.1,194.9M177,184.7L183,194.9M189,184.7L201.3,184.7M189,184.7L183,194.9M189,184.7L195.1,194.9M201.3,184.7L214.1,184.6M201.3,184.7L195.1,194.9M201.3,184.7L207.9,194.9M214.1,184.6L225.8,184M214.1,184.6L207.9,194.9M214.1,184.6L222.7,194.8M225.8,184L222.7,194.8M7.9,194.8L17.7,194.9M7.9,194.8L10.8,205.8M17.7,194.9L29.5,194.9M17.7,194.9L10.8,205.8M17.7,194.9L23.6,205.4M29.5,194.9L41.3,194.9M29.5,194.9L23.6,205.4M29.5,194.9L35.4,205.3M41.3,194.9L53.1,195M41.3,194.9L35.4,205.3M41.3,194.9L47.2,205.2M53.1,195L64.9,195M53.1,195L47.2,205.2M53.1,195L59,205.2M64.9,195L76.7,195M64.9,195L59,205.2M64.9,195L70.8,205.2M76.7,195L88.5,195M76.7,195L70.8,205.2M76.7,195L82.6,205.2M88.5,195L100.3,195M88.5,195L82.6,205.2M88.5,195L94.4,205.2M100.3,195L112.1,195M100.3,195L94.4,205.2M100.3,195L106.2,205.2M112.1,195L123.9,195M112.1,195L106.2,205.2M112.1,195L118,205.2M123.9,195L135.7,195M123.9,195L118,205.2M123.9,195L129.8,205.2M135.7,195L147.5,195M135.7,195L129.8,205.2M135.7,195L141.6,205.2M147.5,195L159.3,194.9M147.5,195L141.6,205.2M147.5,195L153.4,205.2M159.3,194.9L171.1,194.9M159.3,194.9L153.4,205.2M159.3,194.9L165.2,205.2M171.1,194.9L183,194.9M171.1,194.9L165.2,205.2M171.1,194.9L177,205.2M183,194.9L195.1,194.9M183,194.9L177,205.2M183,194.9L189,205.2M195.1,194.9L207.9,194.9M195.1,194.9L189,205.2M195.1,194.9L201.3,205.1M207.9,194.9L222.7,194.8M207.9,194.9L201.3,205.1M207.9,194.9L214,205.1M222.7,194.8L214,205.1M222.7,194.8L225.7,205.5M10.8,205.8L23.6,205.4M10.8,205.8L8.4,216.8M10.8,205.8L18.2,215.8M23.6,205.4L35.4,205.3M23.6,205.4L18.2,215.8M23.6,205.4L29.6,215.6M35.4,205.3L47.2,205.2M35.4,205.3L29.6,215.6M35.4,205.3L41.3,215.5M47.2,205.2L59,205.2M47.2,205.2L41.3,215.5M47.2,205.2L53.1,215.5M59,205.2L70.8,205.2M59,205.2L53.1,215.5M59,205.2L64.9,215.5M70.8,205.2L82.6,205.2M70.8,205.2L64.9,215.5M70.8,205.2L76.7,215.5M82.6,205.2L94.4,205.2M82.6,205.2L76.7,215.5M82.6,205.2L88.5,215.5M94.4,205.2L106.2,205.2M94.4,205.2L88.5,215.5M94.4,205.2L100.3,215.5M106.2,205.2L118,205.2M106.2,205.2L100.3,215.5M106.2,205.2L112.1,215.5M118,205.2L129.8,205.2M118,205.2L112.1,215.5M118,205.2L123.9,215.5M129.8,205.2L141.6,205.2M129.8,205.2L123.9,215.5M129.8,205.2L135.7,215.5M141.6,205.2L153.4,205.2M141.6,205.2L135.7,215.5M141.6,205.2L147.5,215.5M153.4,205.2L165.2,205.2M153.4,205.2L147.5,215.5M153.4,205.2L159.3,215.5M165.2,205.2L177,205.2M165.2,205.2L159.3,215.5M165.2,205.2L171.1,215.5M177,205.2L189,205.2M177,205.2L171.1,215.5M177,205.2L183,215.5M189,205.2L201.3,205.1M189,205.2L183,215.5M189,205.2L195,215.4M201.3,205.1L214,205.1M201.3,205.1L195,215.4M201.3,205.1L207.2,215.3M214,205.1L225.7,205.5M214,205.1L207.2,215.3M214,205.1L220.1,214.8M225.7,205.5L220.1,214.8M8.4,216.8L18.2,215.8M8.4,216.8L12.8,225.8M18.2,215.8L29.6,215.6M18.2,215.8L12.8,225.8M18.2,215.8L23.9,225.8M29.6,215.6L41.3,215.5M29.6,215.6L23.9,225.8M29.6,215.6L35.5,225.8M41.3,215.5L53.1,215.5M41.3,215.5L35.5,225.8M41.3,215.5L47.2,225.7M53.1,215.5L64.9,215.5M53.1,215.5L47.2,225.7M53.1,215.5L59,225.7M64.9,215.5L76.7,215.5M64.9,215.5L59,225.7M64.9,215.5L70.8,225.7M76.7,215.5L88.5,215.5M76.7,215.5L70.8,225.7M76.7,215.5L82.6,225.7M88.5,215.5L100.3,215.5M88.5,215.5L82.6,225.7M88.5,215.5L94.4,225.7M100.3,215.5L112.1,215.5M100.3,215.5L94.4,225.7M100.3,215.5L106.2,225.7M112.1,215.5L123.9,215.5M112.1,215.5L106.2,225.7M112.1,215.5L118,225.7M123.9,215.5L135.7,215.5M123.9,215.5L118,225.7M123.9,215.5L129.8,225.7M135.7,215.5L147.5,215.5M135.7,215.5L129.8,225.7M135.7,215.5L141.6,225.7M147.5,215.5L159.3,215.5M147.5,215.5L141.6,225.7M147.5,215.5L153.4,225.7M159.3,215.5L171.1,215.5M159.3,215.5L153.4,225.7M159.3,215.5L165.2,225.7M171.1,215.5L183,215.5M171.1,215.5L165.2,225.7M171.1,215.5L177,225.7M183,215.5L195,215.4M183,215.5L177,225.7M183,215.5L188.9,225.7M195,215.4L207.2,215.3M195,215.4L188.9,225.7M195,215.4L200.8,225.6M207.2,215.3L220.1,214.8M207.2,215.3L200.8,225.6M207.2,215.3L212.9,225.4M220.1,214.8L212.9,225.4M220.1,214.8L225,224.8M12.8,225.8L23.9,225.8M23.9,225.8L35.5,225.8M35.5,225.8L47.2,225.7M47.2,225.7L59,225.7M59,225.7L70.8,225.7M70.8,225.7L82.6,225.7M82.6,225.7L94.4,225.7M94.4,225.7L106.2,225.7M106.2,225.7L118,225.7M118,225.7L129.8,225.7M129.8,225.7L141.6,225.7M141.6,225.7L153.4,225.7M153.4,225.7L165.2,225.7M165.2,225.7L177,225.7M177,225.7L188.9,225.7M188.9,225.7L200.8,225.6M200.8,225.6L212.9,225.4M212.9,225.4L225,224.8" stroke="#000" stroke-opacity="0.7" stroke-width="0.5" fill="none"/></g>
<circle cx="578" cy="109.5" r="34.8" fill="#fff" stroke="#444" stroke-width="0.5"/>
<g stroke="#222" stroke-width="0.4" fill="none"><path d="M475,223.6L485,223.6L481.3,211.5ZM481.3,211.5L479,219L475,223.6M479,219L485,223.6M480,215L477,221.8M480.5,215L482,221.6M476,222H483.5M477.5,220H483"/></g>
<rect x="397.3" y="164.5" width="4.4" height="121" fill="#5b9bd5" stroke="#41719c" stroke-width="0.6"/>
<rect x="639.3" y="50.3" width="5.4" height="120.2" fill="#5b9bd5" stroke="#41719c" stroke-width="0.6"/>
<defs><linearGradient id="cb" x1="0" y1="1" x2="0" y2="0">
<stop offset="0" stop-color="#000080"/>
<stop offset="0.11" stop-color="#0000ff"/>
<stop offset="0.34" stop-color="#00ffff"/>
<stop offset="0.48" stop-color="#00ff00"/>
<stop offset="0.64" stop-color="#ffff00"/>
<stop offset="0.89" stop-color="#ff0000"/>
<stop offset="1" stop-color="#800000"/>
</linearGradient></defs>
<rect x="349.3" y="32" width="5" height="117" fill="url(#cb)"/>
<g fill="#000">
<text x="49.3" y="25" font-size="13" font-family="Liberation Sans, Arial, sans-serif" textLength="21.2" lengthAdjust="spacingAndGlyphs">878</text>
<text x="77.4" y="25" font-size="13" font-family="Liberation Sans, Arial, sans-serif" textLength="102.8" lengthAdjust="spacingAndGlyphs">3-noded triangles</text>
<text x="49.3" y="42.7" font-size="13" font-family="Liberation Sans, Arial, sans-serif" textLength="21.2" lengthAdjust="spacingAndGlyphs">495</text>
<text x="77.4" y="42.7" font-size="13" font-family="Liberation Sans, Arial, sans-serif" textLength="25" lengthAdjust="spacingAndGlyphs">DOF</text>
<text x="402.8" y="24" font-size="12.2" font-family="Liberation Sans, Arial, sans-serif" textLength="234" lengthAdjust="spacingAndGlyphs">Reference solution: Backward Euler with</text>
<text x="402.8" y="42" font-size="12.2" font-family="Liberation Sans, Arial, sans-serif" textLength="140.6" lengthAdjust="spacingAndGlyphs">Conjugate Gradient with</text>
<text x="551.3" y="42" font-size="12.5" font-family="Liberation Serif, DejaVu Serif, serif" textLength="8.2" lengthAdjust="spacingAndGlyphs">Δ</text>
<text x="559.6" y="42" font-size="12.2" font-family="Liberation Sans, Arial, sans-serif" textLength="15.4" lengthAdjust="spacingAndGlyphs" font-weight="bold">t =</text>
<text x="585.6" y="42" font-size="12.2" font-family="Liberation Sans, Arial, sans-serif" textLength="48.6" lengthAdjust="spacingAndGlyphs" font-weight="bold">0.0005 s</text>
<text x="5.5" y="170.3" font-size="16.2" font-family="Liberation Sans, Arial, sans-serif" textLength="22.2" lengthAdjust="spacingAndGlyphs">0.1</text>
<text x="154.2" y="307.4" font-size="16.2" font-family="Liberation Sans, Arial, sans-serif" textLength="22.4" lengthAdjust="spacingAndGlyphs">0.1</text>
<text x="42" y="94" font-size="15.8" font-family="Liberation Sans, Arial, sans-serif" textLength="9.3" lengthAdjust="spacingAndGlyphs">C</text>
<text x="278.2" y="94" font-size="15.8" font-family="Liberation Sans, Arial, sans-serif" textLength="9.3" lengthAdjust="spacingAndGlyphs">D</text>
<text x="42" y="215.8" font-size="15.8" font-family="Liberation Sans, Arial, sans-serif" textLength="10" lengthAdjust="spacingAndGlyphs">A</text>
<text x="278.2" y="216" font-size="15.8" font-family="Liberation Sans, Arial, sans-serif" textLength="8.4" lengthAdjust="spacingAndGlyphs">B</text>
<text x="181.5" y="134" font-size="15.2" font-family="Liberation Sans, Arial, sans-serif" textLength="6.8" lengthAdjust="spacingAndGlyphs">E</text>
<text x="94.5" y="204.8" font-size="15.2" font-family="Liberation Sans, Arial, sans-serif" textLength="6.3" lengthAdjust="spacingAndGlyphs">F</text>
<text x="290.8" y="75" font-size="11" font-family="Liberation Sans, Arial, sans-serif" textLength="27.5" lengthAdjust="spacingAndGlyphs">0.025</text>
<text x="290.8" y="255.5" font-size="10.6" font-family="Liberation Sans, Arial, sans-serif" textLength="27.5" lengthAdjust="spacingAndGlyphs">0.025</text>
<text x="198.8" y="37" font-size="7.6" font-family="Liberation Sans, Arial, sans-serif" textLength="22" lengthAdjust="spacingAndGlyphs">0.0354</text>
<text x="212" y="93" font-size="7.4" font-family="Liberation Sans, Arial, sans-serif" textLength="18" lengthAdjust="spacingAndGlyphs">0.015</text>
<g transform="translate(372.2,238.4) rotate(-90)">
<text x="0" y="0" font-size="11.2" font-family="Liberation Sans, Arial, sans-serif" textLength="20.7" lengthAdjust="spacingAndGlyphs">0.05</text>
</g>
<g transform="translate(392.7,252.4) rotate(-90)">
<text x="0" y="0" font-size="16.7" font-family="Liberation Sans, Arial, sans-serif" textLength="27.4" lengthAdjust="spacingAndGlyphs">100</text>
<text x="32.2" y="0" font-size="16.7" font-family="Liberation Sans, Arial, sans-serif" textLength="6.2" lengthAdjust="spacingAndGlyphs">º</text>
</g>
<path d="M389.7,214.2V219.8" stroke="#000" stroke-width="0.9"/>
<g transform="translate(666,93.3) rotate(90)">
<text x="0" y="0" font-size="11.8" font-family="Liberation Sans, Arial, sans-serif" textLength="20.7" lengthAdjust="spacingAndGlyphs">0.05</text>
</g>
<g transform="translate(646.7,105.2) rotate(90)">
<text x="0" y="0" font-size="16.7" font-family="Liberation Sans, Arial, sans-serif">0</text>
<text x="14.3" y="0" font-size="16.7" font-family="Liberation Sans, Arial, sans-serif" textLength="6.2" lengthAdjust="spacingAndGlyphs">º</text>
</g>
<path d="M649.6,119.8V125.4" stroke="#000" stroke-width="0.9"/>
<text x="346" y="25.2" font-size="7.2" font-family="Liberation Sans, Arial, sans-serif" textLength="42.5" lengthAdjust="spacingAndGlyphs" font-weight="bold">Temperature</text>
<text x="356.6" y="33.8" font-size="6.6" font-family="Liberation Sans, Arial, sans-serif" font-weight="bold">100</text>
<path d="M354.3,32.2H356.4" stroke="#222" stroke-width="0.5"/>
<text x="356.6" y="46.8" font-size="6.6" font-family="Liberation Sans, Arial, sans-serif" textLength="20.2" lengthAdjust="spacingAndGlyphs" font-weight="bold">88.889</text>
<path d="M354.3,45.15H356.4" stroke="#222" stroke-width="0.5"/>
<text x="356.6" y="59.8" font-size="6.6" font-family="Liberation Sans, Arial, sans-serif" textLength="20.2" lengthAdjust="spacingAndGlyphs" font-weight="bold">77.778</text>
<path d="M354.3,58.1H356.4" stroke="#222" stroke-width="0.5"/>
<text x="356.6" y="72.8" font-size="6.6" font-family="Liberation Sans, Arial, sans-serif" textLength="20.2" lengthAdjust="spacingAndGlyphs" font-weight="bold">66.667</text>
<path d="M354.3,71.05H356.4" stroke="#222" stroke-width="0.5"/>
<text x="356.6" y="85.8" font-size="6.6" font-family="Liberation Sans, Arial, sans-serif" textLength="20.2" lengthAdjust="spacingAndGlyphs" font-weight="bold">55.556</text>
<path d="M354.3,84H356.4" stroke="#222" stroke-width="0.5"/>
<text x="356.6" y="98.8" font-size="6.6" font-family="Liberation Sans, Arial, sans-serif" textLength="20.2" lengthAdjust="spacingAndGlyphs" font-weight="bold">44.444</text>
<path d="M354.3,96.95H356.4" stroke="#222" stroke-width="0.5"/>
<text x="356.6" y="111.8" font-size="6.6" font-family="Liberation Sans, Arial, sans-serif" textLength="20.2" lengthAdjust="spacingAndGlyphs" font-weight="bold">33.333</text>
<path d="M354.3,109.9H356.4" stroke="#222" stroke-width="0.5"/>
<text x="356.6" y="124.8" font-size="6.6" font-family="Liberation Sans, Arial, sans-serif" textLength="20.2" lengthAdjust="spacingAndGlyphs" font-weight="bold">22.222</text>
<path d="M354.3,122.85H356.4" stroke="#222" stroke-width="0.5"/>
<text x="356.6" y="137.8" font-size="6.6" font-family="Liberation Sans, Arial, sans-serif" textLength="20.2" lengthAdjust="spacingAndGlyphs" font-weight="bold">11.111</text>
<path d="M354.3,135.8H356.4" stroke="#222" stroke-width="0.5"/>
<text x="356.6" y="150.8" font-size="6.6" font-family="Liberation Sans, Arial, sans-serif" font-weight="bold">0</text>
<path d="M354.3,148.75H356.4" stroke="#222" stroke-width="0.5"/>
<path d="M357,125.8H378" stroke="#000" stroke-width="0.5"/>
<path d="M361,27.3H376" stroke="#888" stroke-width="0.5"/>
<text x="73" y="326.6" font-size="12.4" font-family="Liberation Sans, Arial, sans-serif" textLength="96.7" lengthAdjust="spacingAndGlyphs">Sampling points:</text>
<text x="173.7" y="327.1" font-size="10.2" font-family="Liberation Sans, Arial, sans-serif" textLength="102" lengthAdjust="spacingAndGlyphs">E = (0.0644 , 0.0644)</text>
<text x="291" y="327.1" font-size="10.2" font-family="Liberation Sans, Arial, sans-serif" textLength="101.4" lengthAdjust="spacingAndGlyphs">F = (0.0284 , 0.0294)</text>
<text x="84.6" y="356.4" font-size="12.4" font-family="Liberation Sans, Arial, sans-serif">k</text>
<text x="97.6" y="356.4" font-size="12.4" font-family="Liberation Sans, Arial, sans-serif" textLength="6.4" lengthAdjust="spacingAndGlyphs">=</text>
<text x="111.4" y="356.4" font-size="12.4" font-family="Liberation Sans, Arial, sans-serif" textLength="39.4" lengthAdjust="spacingAndGlyphs">237.00</text>
<text x="160.9" y="356.4" font-size="12.4" font-family="Liberation Sans, Arial, sans-serif" textLength="4.6" lengthAdjust="spacingAndGlyphs">J</text>
<text x="168.4" y="356.4" font-size="12.4" font-family="Liberation Sans, Arial, sans-serif" textLength="51.5" lengthAdjust="spacingAndGlyphs">/(s ºC m)</text>
<text x="238.8" y="356.4" font-size="12.4" font-family="Liberation Sans, Arial, sans-serif" textLength="6.8" lengthAdjust="spacingAndGlyphs">ρ</text>
<text x="253" y="356.4" font-size="12.4" font-family="Liberation Sans, Arial, sans-serif" textLength="6.4" lengthAdjust="spacingAndGlyphs">=</text>
<text x="266.9" y="356.4" font-size="12.4" font-family="Liberation Sans, Arial, sans-serif" textLength="45.2" lengthAdjust="spacingAndGlyphs">2698.40</text>
<text x="320.4" y="356.4" font-size="12.4" font-family="Liberation Sans, Arial, sans-serif" textLength="37.6" lengthAdjust="spacingAndGlyphs">Kg/m3</text>
<text x="83.8" y="372.8" font-size="13.5" font-family="Liberation Serif, DejaVu Serif, serif" textLength="9" lengthAdjust="spacingAndGlyphs" font-style="italic">ϕ</text>
<text x="93.6" y="375.2" font-size="8.5" font-family="Liberation Serif, DejaVu Serif, serif" textLength="5.6" lengthAdjust="spacingAndGlyphs">0</text>
<text x="112.7" y="372.8" font-size="12.4" font-family="Liberation Sans, Arial, sans-serif" textLength="6.8" lengthAdjust="spacingAndGlyphs">=</text>
<text x="129.8" y="372.8" font-size="12.4" font-family="Liberation Sans, Arial, sans-serif" textLength="17.2" lengthAdjust="spacingAndGlyphs">0.0</text>
<text x="154.6" y="372.8" font-size="12.4" font-family="Liberation Sans, Arial, sans-serif" textLength="12.6" lengthAdjust="spacingAndGlyphs">ºC</text>
<text x="225.3" y="374.6" font-size="12.2" font-family="Liberation Sans, Arial, sans-serif" textLength="5.6" lengthAdjust="spacingAndGlyphs">c</text>
<text x="237" y="374.6" font-size="12.2" font-family="Liberation Sans, Arial, sans-serif" textLength="6.8" lengthAdjust="spacingAndGlyphs">=</text>
<text x="260.1" y="374.6" font-size="12.2" font-family="Liberation Sans, Arial, sans-serif" textLength="39.4" lengthAdjust="spacingAndGlyphs">900.00</text>
<text x="302.8" y="374.6" font-size="12.2" font-family="Liberation Sans, Arial, sans-serif" textLength="4.4" lengthAdjust="spacingAndGlyphs">J</text>
<text x="311.6" y="374.6" font-size="12.2" font-family="Liberation Sans, Arial, sans-serif" textLength="47.7" lengthAdjust="spacingAndGlyphs">/( ºC Kg)</text>
<text x="125.7" y="403.8" font-size="12.6" font-family="Liberation Sans, Arial, sans-serif" textLength="164.6" lengthAdjust="spacingAndGlyphs">Total analysis time = 200 sec</text>
<text x="2" y="409" font-size="11.6" font-family="Liberation Sans, Arial, sans-serif" textLength="73" lengthAdjust="spacingAndGlyphs">Refined zone</text>
<path d="M2,411.2 q1.5,-1.6 3,0 t3,0 t3,0 t3,0 t3,0 t3,0 t3,0 t3,0 t3,0 t3,0 t3,0 t3,0 t3,0 t3,0 t3,0 t3,0 t3,0 t3,0 t3,0 t3,0 t3,0 t3,0 t3,0 t3,0 " stroke="#e03030" stroke-width="0.7" fill="none" stroke-opacity="0.6"/>
<text x="410.5" y="332.6" font-size="14" font-family="Liberation Serif, DejaVu Serif, serif" textLength="7.4" lengthAdjust="spacingAndGlyphs">λ</text>
<text x="418.2" y="335.6" font-size="9.5" font-family="Liberation Sans, Arial, sans-serif" textLength="4.8" lengthAdjust="spacingAndGlyphs">1</text>
<text x="427.6" y="332.6" font-size="13.4" font-family="Liberation Sans, Arial, sans-serif" textLength="6.8" lengthAdjust="spacingAndGlyphs">=</text>
<text x="437.7" y="332.6" font-size="13.4" font-family="Liberation Sans, Arial, sans-serif" textLength="39.3" lengthAdjust="spacingAndGlyphs">4.2877</text>
<text x="481.2" y="333.2" font-size="17" font-family="Liberation Sans, Arial, sans-serif" textLength="10" lengthAdjust="spacingAndGlyphs">×</text>
<text x="496.7" y="332.6" font-size="13.4" font-family="Liberation Sans, Arial, sans-serif" textLength="13" lengthAdjust="spacingAndGlyphs">10</text>
<text x="511.7" y="327" font-size="9.6" font-family="Liberation Sans, Arial, sans-serif" textLength="12.1" lengthAdjust="spacingAndGlyphs">−2</text>
<text x="413.8" y="356.4" font-size="14" font-family="Liberation Serif, DejaVu Serif, serif" textLength="5" lengthAdjust="spacingAndGlyphs" font-style="italic">r</text>
<text x="419.4" y="359.4" font-size="9.5" font-family="Liberation Sans, Arial, sans-serif" textLength="4.8" lengthAdjust="spacingAndGlyphs">1</text>
<text x="428.9" y="356.4" font-size="13.4" font-family="Liberation Sans, Arial, sans-serif" textLength="6.3" lengthAdjust="spacingAndGlyphs">=</text>
<text x="443" y="347.7" font-size="12" font-family="Liberation Serif, DejaVu Serif, serif" textLength="6.2" lengthAdjust="spacingAndGlyphs">λ</text>
<text x="449.8" y="350" font-size="8" font-family="Liberation Sans, Arial, sans-serif" textLength="4" lengthAdjust="spacingAndGlyphs">1</text>
<path d="M442,351.5H457.4" stroke="#000" stroke-width="0.7"/>
<text x="442.6" y="362.6" font-size="12" font-family="Liberation Serif, DejaVu Serif, serif" textLength="6.2" lengthAdjust="spacingAndGlyphs">λ</text>
<text x="449.4" y="365" font-size="8" font-family="Liberation Serif, DejaVu Serif, serif" textLength="6" lengthAdjust="spacingAndGlyphs" font-style="italic">N</text>
<text x="460" y="356.4" font-size="13.4" font-family="Liberation Sans, Arial, sans-serif" textLength="7" lengthAdjust="spacingAndGlyphs">=</text>
<text x="471.6" y="356.4" font-size="13.4" font-family="Liberation Sans, Arial, sans-serif" textLength="39.4" lengthAdjust="spacingAndGlyphs">50.313</text>
<text x="518.6" y="357" font-size="17" font-family="Liberation Sans, Arial, sans-serif" textLength="10.2" lengthAdjust="spacingAndGlyphs">×</text>
<text x="533.6" y="356.4" font-size="13.4" font-family="Liberation Sans, Arial, sans-serif" textLength="13.3" lengthAdjust="spacingAndGlyphs">10</text>
<text x="549.4" y="350.8" font-size="9.6" font-family="Liberation Sans, Arial, sans-serif" textLength="11.3" lengthAdjust="spacingAndGlyphs">−6</text>
<text x="413.8" y="379" font-size="14" font-family="Liberation Serif, DejaVu Serif, serif" textLength="7" lengthAdjust="spacingAndGlyphs">δ</text>
<text x="421.2" y="382" font-size="9.5" font-family="Liberation Serif, DejaVu Serif, serif" textLength="4.6" lengthAdjust="spacingAndGlyphs" font-style="italic">c</text>
<text x="430" y="379" font-size="13.4" font-family="Liberation Sans, Arial, sans-serif" textLength="7" lengthAdjust="spacingAndGlyphs">=</text>
<text x="444.7" y="379" font-size="13.4" font-family="Liberation Sans, Arial, sans-serif" textLength="46.2" lengthAdjust="spacingAndGlyphs">0.97163</text>
<text x="576.4" y="332.2" font-size="14" font-family="Liberation Serif, DejaVu Serif, serif" textLength="7.4" lengthAdjust="spacingAndGlyphs">λ</text>
<text x="584.4" y="335.4" font-size="9.5" font-family="Liberation Serif, DejaVu Serif, serif" textLength="7.4" lengthAdjust="spacingAndGlyphs" font-style="italic">N</text>
<text x="599.9" y="332.2" font-size="13.4" font-family="Liberation Sans, Arial, sans-serif" textLength="6.2" lengthAdjust="spacingAndGlyphs">=</text>
<text x="610.3" y="332.2" font-size="13.4" font-family="Liberation Sans, Arial, sans-serif" textLength="39.1" lengthAdjust="spacingAndGlyphs">852.20</text>
<text x="578.1" y="356.1" font-size="14" font-family="Liberation Serif, DejaVu Serif, serif" textLength="9" lengthAdjust="spacingAndGlyphs">Δ</text>
<text x="587.6" y="356.1" font-size="13.4" font-family="Liberation Sans, Arial, sans-serif" textLength="4.3" lengthAdjust="spacingAndGlyphs">t</text>
<text x="592.9" y="350.6" font-size="8.6" font-family="Liberation Serif, DejaVu Serif, serif" textLength="12" lengthAdjust="spacingAndGlyphs">FE</text>
<text x="593.4" y="359.6" font-size="9" font-family="Liberation Serif, DejaVu Serif, serif" textLength="2.4" lengthAdjust="spacingAndGlyphs" font-style="italic">l</text>
<text x="605.6" y="356.1" font-size="13.4" font-family="Liberation Sans, Arial, sans-serif" textLength="6.4" lengthAdjust="spacingAndGlyphs">=</text>
<text x="619.4" y="356.1" font-size="13.4" font-family="Liberation Sans, Arial, sans-serif" textLength="45.5" lengthAdjust="spacingAndGlyphs">0.00235</text>
<text x="670.2" y="356.1" font-size="13.4" font-family="Liberation Sans, Arial, sans-serif" textLength="4.6" lengthAdjust="spacingAndGlyphs">s</text>
<text x="578.1" y="379.2" font-size="14" font-family="Liberation Serif, DejaVu Serif, serif" textLength="9" lengthAdjust="spacingAndGlyphs">Δ</text>
<text x="587.6" y="379.2" font-size="13.4" font-family="Liberation Sans, Arial, sans-serif" textLength="4.3" lengthAdjust="spacingAndGlyphs">t</text>
<text x="592.9" y="373.6" font-size="8.6" font-family="Liberation Serif, DejaVu Serif, serif" textLength="19" lengthAdjust="spacingAndGlyphs">EFT</text>
<text x="593.2" y="382.6" font-size="9" font-family="Liberation Serif, DejaVu Serif, serif" textLength="4" lengthAdjust="spacingAndGlyphs" font-style="italic">c</text>
<text x="615.6" y="379.2" font-size="13.4" font-family="Liberation Sans, Arial, sans-serif" textLength="6" lengthAdjust="spacingAndGlyphs">=</text>
<text x="628.9" y="379.2" font-size="13.4" font-family="Liberation Sans, Arial, sans-serif" textLength="45.9" lengthAdjust="spacingAndGlyphs">0.16543</text>
<text x="679.7" y="379.2" font-size="13.4" font-family="Liberation Sans, Arial, sans-serif" textLength="4.6" lengthAdjust="spacingAndGlyphs">s</text>
</g>
</svg>
</body></html>
